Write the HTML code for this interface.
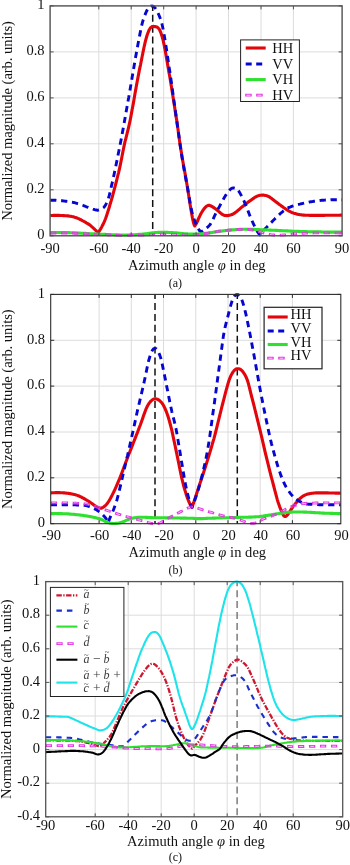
<!DOCTYPE html>
<html><head><meta charset="utf-8"><title>Normalized magnitude vs azimuth angle</title>
<style>
html,body{margin:0;padding:0;background:#fff}
svg{display:block}
.tk{font-family:'Liberation Serif', serif;font-size:14.5px;fill:#111}
.lb{font-family:'Liberation Serif', serif;font-size:14.5px;fill:#111}
.cap{font-family:'Liberation Serif', serif;font-size:12px;fill:#111}
.lg{font-family:'Liberation Serif', serif;font-size:14.5px;fill:#111}
.mt{font-family:'Liberation Serif', serif;font-size:12px;font-style:italic;fill:#3a3a3a}
.tl{font-family:'Liberation Serif', serif;font-size:8.5px;fill:#3a3a3a}
.op{font-style:normal;font-size:13.5px}
path,line{stroke-linejoin:round}
</style></head><body>
<svg width="350" height="865" viewBox="0 0 350 865">
<rect width="350" height="865" fill="#fff"/>
<clipPath id="ca"><rect x="50.1" y="4.300000000000001" width="292.0" height="233.3"/></clipPath>
<path d="M98.8,5.9V235.8M131.2,5.9V235.8M163.7,5.9V235.8M196.1,5.9V235.8M228.5,5.9V235.8M261.0,5.9V235.8M293.4,5.9V235.8M50.1,189.8H342.1M50.1,143.8H342.1M50.1,97.9H342.1M50.1,51.9H342.1" stroke="#dcdcdc" stroke-width="1" fill="none"/>
<g clip-path="url(#ca)" fill="none">
<line x1="152.7" y1="5.9" x2="152.7" y2="235.8" stroke="#111" stroke-width="1.5" stroke-dasharray="7 3.9" stroke-dashoffset="2.0"/>
<path d="M50.1,215.6 50.9,215.5 51.7,215.5 52.5,215.5 53.4,215.4 54.2,215.4 55.0,215.4 55.8,215.4 56.6,215.4 57.4,215.4 58.3,215.4 59.1,215.4 59.9,215.5 60.7,215.5 61.5,215.5 62.3,215.5 63.2,215.6 64.0,215.6 64.8,215.7 65.6,215.7 66.4,215.8 67.2,215.9 68.1,215.9 68.9,216.0 69.7,216.2 70.5,216.3 71.3,216.4 72.1,216.6 73.0,216.8 73.8,216.9 74.6,217.2 75.4,217.4 76.2,217.7 77.0,218.0 77.9,218.4 78.7,218.7 79.5,219.1 80.3,219.5 81.1,219.9 81.9,220.3 82.8,220.8 83.6,221.2 84.4,221.7 85.2,222.1 86.0,222.6 86.8,223.1 87.7,223.6 88.5,224.1 89.3,224.6 90.1,225.2 90.9,225.9 91.7,226.6 92.6,227.4 93.4,228.1 94.2,228.8 95.0,229.6 95.8,230.3 96.6,231.1 97.5,231.8 98.3,232.6 99.1,231.4 99.9,230.2 100.7,228.8 101.5,227.4 102.3,225.8 103.1,224.2 104.0,222.4 104.8,220.5 105.6,218.5 106.4,216.2 107.2,213.8 108.0,211.3 108.8,208.7 109.6,206.0 110.4,203.2 111.3,200.4 112.1,197.5 112.9,194.6 113.7,191.6 114.5,188.6 115.3,185.6 116.1,182.5 116.9,179.3 117.7,176.0 118.6,172.6 119.4,169.1 120.2,165.4 121.0,161.5 121.8,157.5 122.6,153.3 123.4,149.3 124.2,145.4 125.0,141.7 125.9,138.3 126.7,135.0 127.5,131.8 128.3,128.6 129.1,125.2 129.9,121.5 130.7,117.5 131.5,113.1 132.3,108.7 133.2,104.1 134.0,99.5 134.8,94.8 135.6,90.3 136.4,85.8 137.2,81.5 138.0,77.2 138.8,73.1 139.6,68.9 140.5,64.8 141.3,60.7 142.1,56.7 142.9,52.7 143.7,48.8 144.5,45.1 145.3,41.7 146.1,38.6 146.9,35.8 147.8,33.3 148.6,31.2 149.4,29.5 150.2,28.2 151.0,27.4 151.8,26.8 152.6,26.5 153.4,26.4 154.2,26.5 155.1,26.6 155.9,26.7 156.7,27.0 157.5,27.4 158.3,28.1 159.1,29.1 159.9,30.5 160.7,32.3 161.5,34.7 162.4,37.5 163.2,40.7 164.0,44.3 164.8,48.4 165.6,52.8 166.4,57.4 167.2,62.0 168.0,66.7 168.8,71.4 169.7,76.2 170.5,81.1 171.3,86.1 172.1,91.1 172.9,96.1 173.7,101.2 174.5,106.3 175.3,111.5 176.1,116.8 177.0,122.1 177.8,127.9 178.6,134.0 179.4,139.9 180.2,145.3 181.0,150.3 181.8,155.2 182.6,159.9 183.4,164.5 184.3,169.1 185.1,173.7 185.9,178.3 186.7,183.0 187.5,187.8 188.3,192.8 189.1,197.9 189.9,203.2 190.7,208.3 191.6,213.2 192.4,217.6 193.2,221.5 194.0,224.4 194.8,225.9 195.6,224.7 196.4,223.4 197.2,221.8 198.0,220.0 198.8,218.0 199.7,216.2 200.5,214.5 201.3,213.0 202.1,211.7 202.9,210.4 203.7,209.3 204.5,208.3 205.3,207.4 206.1,206.6 206.9,206.0 207.8,205.5 208.6,205.3 209.4,205.3 210.2,205.6 211.0,206.0 211.8,206.4 212.6,206.9 213.4,207.4 214.2,207.9 215.0,208.5 215.8,209.1 216.7,209.8 217.5,210.4 218.3,211.1 219.1,211.8 219.9,212.5 220.7,213.2 221.5,213.8 222.3,214.4 223.1,214.8 223.9,215.2 224.7,215.4 225.6,215.5 226.4,215.6 227.2,215.6 228.0,215.5 228.8,215.4 229.6,215.3 230.4,215.1 231.2,214.8 232.0,214.5 232.8,214.2 233.6,213.7 234.5,213.2 235.3,212.6 236.1,212.0 236.9,211.3 237.7,210.7 238.5,210.0 239.3,209.3 240.1,208.6 240.9,207.9 241.7,207.2 242.6,206.5 243.4,205.9 244.2,205.2 245.0,204.6 245.8,204.0 246.6,203.4 247.4,202.7 248.2,202.1 249.0,201.5 249.8,200.9 250.6,200.4 251.5,199.8 252.3,199.2 253.1,198.6 253.9,198.1 254.7,197.5 255.5,197.0 256.3,196.6 257.1,196.2 257.9,195.9 258.7,195.6 259.5,195.4 260.4,195.3 261.2,195.2 262.0,195.1 262.8,195.1 263.6,195.1 264.4,195.2 265.2,195.4 266.0,195.6 266.8,195.8 267.6,196.1 268.5,196.5 269.3,196.9 270.1,197.4 270.9,198.0 271.7,198.6 272.5,199.2 273.3,199.8 274.1,200.4 274.9,201.1 275.7,201.7 276.5,202.3 277.4,203.0 278.2,203.6 279.0,204.2 279.8,204.8 280.6,205.3 281.4,205.9 282.2,206.5 283.0,207.1 283.8,207.7 284.6,208.2 285.4,208.8 286.3,209.4 287.1,209.9 287.9,210.4 288.7,210.9 289.5,211.3 290.3,211.7 291.1,212.1 291.9,212.5 292.7,212.8 293.5,213.1 294.3,213.4 295.2,213.6 296.0,213.8 296.8,214.1 297.6,214.2 298.4,214.4 299.2,214.5 300.0,214.7 300.8,214.8 301.6,214.9 302.4,215.0 303.3,215.1 304.1,215.1 304.9,215.2 305.7,215.3 306.5,215.3 307.3,215.3 308.1,215.3 308.9,215.3 309.7,215.4 310.5,215.4 311.3,215.4 312.2,215.4 313.0,215.4 313.8,215.4 314.6,215.4 315.4,215.4 316.2,215.4 317.0,215.4 317.8,215.4 318.6,215.4 319.4,215.4 320.2,215.4 321.1,215.4 321.9,215.4 322.7,215.4 323.5,215.4 324.3,215.4 325.1,215.3 325.9,215.3 326.7,215.3 327.5,215.3 328.3,215.3 329.2,215.3 330.0,215.3 330.8,215.3 331.6,215.3 332.4,215.3 333.2,215.3 334.0,215.2 334.8,215.2 335.6,215.2 336.4,215.2 337.2,215.2 338.1,215.2 338.9,215.2 339.7,215.2 340.5,215.1 341.3,215.1 342.1,215.1" stroke="#e2060c" stroke-width="3.1"/>
<path d="M50.1,200.2 50.9,200.2 51.7,200.2 52.5,200.2 53.3,200.2 54.1,200.2 55.0,200.3 55.8,200.3 56.6,200.4 57.4,200.4 58.2,200.5 59.0,200.5 59.8,200.6 60.6,200.7 61.4,200.7 62.2,200.8 63.1,200.9 63.9,201.0 64.7,201.1 65.5,201.2 66.3,201.3 67.1,201.4 67.9,201.5 68.7,201.7 69.5,201.8 70.3,201.9 71.2,202.1 72.0,202.2 72.8,202.4 73.6,202.5 74.4,202.7 75.2,202.9 76.0,203.1 76.8,203.3 77.6,203.6 78.4,203.8 79.3,204.1 80.1,204.3 80.9,204.6 81.7,204.9 82.5,205.2 83.3,205.5 84.1,205.8 84.9,206.2 85.7,206.5 86.5,206.8 87.4,207.1 88.2,207.4 89.0,207.7 89.8,208.0 90.6,208.3 91.4,208.6 92.2,208.8 93.0,209.1 93.8,209.3 94.6,209.6 95.5,209.8 96.3,210.0 97.1,210.2 97.9,210.2 98.7,210.0 99.5,209.8 100.3,209.5 101.1,209.1 101.9,208.7 102.7,208.2 103.6,207.6 104.4,206.7 105.2,205.5 106.0,204.2 106.8,202.6 107.6,200.8 108.4,198.5 109.2,195.7 110.0,192.5 110.8,189.0 111.6,185.4 112.5,181.7 113.3,178.0 114.1,174.3 114.9,170.5 115.7,166.7 116.5,162.8 117.3,158.8 118.1,154.8 118.9,150.7 119.7,146.6 120.6,142.3 121.4,138.1 122.2,133.8 123.0,129.4 123.8,125.0 124.6,120.6 125.4,116.0 126.2,111.5 127.0,106.9 127.8,102.2 128.7,97.6 129.5,92.9 130.3,88.2 131.1,83.5 131.9,78.8 132.7,74.1 133.5,69.4 134.3,64.7 135.1,60.0 135.9,55.4 136.8,50.8 137.6,46.3 138.4,42.0 139.2,37.7 140.0,33.6 140.8,29.6 141.6,25.8 142.4,22.6 143.2,19.8 144.0,17.3 144.9,15.1 145.7,13.1 146.5,11.3 147.3,9.8 148.1,8.5 148.9,7.5 149.7,6.7 150.5,6.2 151.3,5.9 152.1,5.9 153.0,6.2 153.8,6.7 154.6,7.5 155.4,8.4 156.2,9.6 157.0,11.0 157.8,12.6 158.6,14.3 159.4,16.2 160.2,18.3 161.1,20.8 161.9,23.7 162.7,27.2 163.5,31.3 164.3,35.7 165.1,40.4 165.9,45.4 166.7,50.7 167.5,56.1 168.3,61.6 169.1,67.1 170.0,72.6 170.8,78.2 171.6,83.9 172.4,89.6 173.2,95.4 174.0,101.2 174.8,107.0 175.6,112.8 176.4,118.5 177.2,124.3 178.1,130.1 178.9,135.9 179.7,141.7 180.5,147.4 181.3,152.8 182.1,157.8 182.9,162.7 183.7,167.3 184.5,171.8 185.3,176.2 186.2,180.6 187.0,185.0 187.8,189.5 188.6,194.1 189.4,198.7 190.2,203.2 191.0,207.4 191.8,211.4 192.6,214.7 193.4,217.5 194.3,219.8 195.1,221.9 195.9,223.8 196.7,225.6 197.5,227.3 198.3,228.8 199.1,230.0 199.9,231.0 200.7,231.6 201.5,231.6 202.4,231.2 203.2,230.7 204.0,230.0 204.8,229.4 205.6,228.7 206.4,228.1 207.2,227.5 208.0,226.8 208.8,226.0 209.6,225.1 210.5,224.0 211.3,222.8 212.1,221.3 212.9,219.6 213.7,217.8 214.5,216.0 215.3,214.3 216.1,212.7 216.9,211.1 217.7,209.6 218.6,208.1 219.4,206.6 220.2,205.1 221.0,203.6 221.8,202.1 222.6,200.7 223.4,199.2 224.2,197.8 225.0,196.4 225.8,195.1 226.6,193.9 227.5,192.8 228.3,191.7 229.1,190.7 229.9,189.8 230.7,189.0 231.5,188.5 232.3,188.1 233.1,188.0 233.9,188.0 234.7,188.1 235.6,188.3 236.4,188.7 237.2,189.3 238.0,190.1 238.8,191.2 239.6,192.5 240.4,193.9 241.2,195.4 242.0,197.0 242.8,198.6 243.7,200.4 244.5,202.2 245.3,204.0 246.1,206.0 246.9,208.0 247.7,210.1 248.5,212.1 249.3,214.2 250.1,216.2 250.9,218.2 251.8,220.1 252.6,222.0 253.4,223.8 254.2,225.5 255.0,227.1 255.8,228.7 256.6,230.2 257.4,231.6 258.2,232.8 259.0,233.9 259.9,234.9 260.7,233.9 261.5,232.9 262.3,231.9 263.1,231.0 263.9,230.1 264.7,229.2 265.6,228.3 266.4,227.5 267.2,226.6 268.0,225.8 268.8,224.9 269.6,224.1 270.4,223.2 271.3,222.4 272.1,221.6 272.9,220.8 273.7,220.0 274.5,219.2 275.3,218.4 276.1,217.6 277.0,216.8 277.8,216.0 278.6,215.3 279.4,214.5 280.2,213.7 281.0,213.0 281.8,212.3 282.7,211.6 283.5,210.9 284.3,210.3 285.1,209.7 285.9,209.1 286.7,208.6 287.5,208.2 288.4,207.7 289.2,207.4 290.0,207.1 290.8,206.7 291.6,206.5 292.4,206.2 293.2,205.9 294.1,205.6 294.9,205.4 295.7,205.1 296.5,204.9 297.3,204.7 298.1,204.5 298.9,204.3 299.8,204.1 300.6,203.9 301.4,203.7 302.2,203.6 303.0,203.4 303.8,203.2 304.6,203.0 305.5,202.9 306.3,202.7 307.1,202.5 307.9,202.3 308.7,202.2 309.5,202.0 310.3,201.9 311.2,201.7 312.0,201.6 312.8,201.5 313.6,201.3 314.4,201.2 315.2,201.1 316.0,201.0 316.9,200.9 317.7,200.8 318.5,200.7 319.3,200.6 320.1,200.5 320.9,200.4 321.7,200.3 322.6,200.3 323.4,200.2 324.2,200.1 325.0,200.1 325.8,200.0 326.6,200.0 327.4,199.9 328.3,199.9 329.1,199.9 329.9,199.9 330.7,199.8 331.5,199.8 332.3,199.8 333.1,199.8 334.0,199.8 334.8,199.8 335.6,199.8 336.4,199.8 337.2,199.8 338.0,199.8 338.8,199.8 339.7,199.9 340.5,199.9 341.3,199.9 342.1,199.9" stroke="#0606d2" stroke-width="2.9" stroke-dasharray="6.3 4.7"/>
<path d="M50.1,232.6 50.9,232.6 51.7,232.6 52.5,232.6 53.3,232.5 54.2,232.5 55.0,232.5 55.8,232.5 56.6,232.5 57.4,232.5 58.2,232.5 59.0,232.5 59.8,232.5 60.6,232.5 61.5,232.5 62.3,232.5 63.1,232.5 63.9,232.5 64.7,232.5 65.5,232.5 66.3,232.6 67.1,232.6 67.9,232.6 68.8,232.6 69.6,232.6 70.4,232.7 71.2,232.7 72.0,232.7 72.8,232.7 73.6,232.8 74.4,232.8 75.2,232.9 76.1,232.9 76.9,232.9 77.7,233.0 78.5,233.0 79.3,233.1 80.1,233.1 80.9,233.2 81.7,233.2 82.5,233.2 83.4,233.3 84.2,233.3 85.0,233.4 85.8,233.4 86.6,233.5 87.4,233.5 88.2,233.6 89.0,233.6 89.8,233.7 90.7,233.7 91.5,233.7 92.3,233.8 93.1,233.8 93.9,233.9 94.7,233.9 95.5,234.0 96.3,234.0 97.1,234.0 98.0,234.1 98.8,234.1 99.6,234.2 100.4,234.2 101.2,234.2 102.0,234.3 102.8,234.3 103.6,234.4 104.4,234.4 105.3,234.4 106.1,234.5 106.9,234.5 107.7,234.6 108.5,234.6 109.3,234.6 110.1,234.7 110.9,234.7 111.7,234.7 112.6,234.8 113.4,234.8 114.2,234.8 115.0,234.9 115.8,234.9 116.6,234.9 117.4,235.0 118.2,235.0 119.0,235.0 119.9,235.0 120.7,235.0 121.5,235.0 122.3,235.0 123.1,235.0 123.9,235.0 124.7,235.0 125.5,235.0 126.3,235.0 127.2,235.0 128.0,235.0 128.8,235.0 129.6,234.9 130.4,234.9 131.2,234.9 132.0,234.8 132.8,234.8 133.6,234.8 134.5,234.7 135.3,234.7 136.1,234.6 136.9,234.6 137.7,234.5 138.5,234.4 139.3,234.4 140.1,234.3 140.9,234.2 141.8,234.2 142.6,234.1 143.4,234.0 144.2,234.0 145.0,233.9 145.8,233.8 146.6,233.7 147.4,233.6 148.2,233.5 149.1,233.4 149.9,233.3 150.7,233.1 151.5,233.0 152.3,232.9 153.1,232.8 153.9,232.7 154.7,232.6 155.5,232.6 156.4,232.5 157.2,232.5 158.0,232.4 158.8,232.4 159.6,232.4 160.4,232.4 161.2,232.3 162.0,232.3 162.8,232.3 163.7,232.3 164.5,232.3 165.3,232.4 166.1,232.4 166.9,232.4 167.7,232.4 168.5,232.5 169.3,232.5 170.1,232.5 171.0,232.5 171.8,232.6 172.6,232.6 173.4,232.7 174.2,232.7 175.0,232.8 175.8,232.9 176.6,232.9 177.4,233.0 178.3,233.1 179.1,233.2 179.9,233.3 180.7,233.4 181.5,233.5 182.3,233.5 183.1,233.6 183.9,233.7 184.7,233.8 185.6,233.8 186.4,233.9 187.2,233.9 188.0,234.0 188.8,234.0 189.6,234.0 190.4,234.0 191.2,234.0 192.0,234.1 192.9,234.1 193.7,234.1 194.5,234.1 195.3,234.0 196.1,234.0 196.9,234.0 197.7,234.0 198.5,233.9 199.3,233.9 200.2,233.9 201.0,233.8 201.8,233.7 202.6,233.7 203.4,233.6 204.2,233.5 205.0,233.4 205.8,233.3 206.6,233.2 207.5,233.1 208.3,233.0 209.1,232.9 209.9,232.7 210.7,232.6 211.5,232.5 212.3,232.4 213.1,232.2 213.9,232.1 214.8,232.0 215.6,231.9 216.4,231.7 217.2,231.6 218.0,231.5 218.8,231.4 219.6,231.3 220.4,231.2 221.2,231.1 222.1,231.0 222.9,230.9 223.7,230.8 224.5,230.7 225.3,230.6 226.1,230.5 226.9,230.5 227.7,230.4 228.5,230.3 229.4,230.2 230.2,230.1 231.0,230.0 231.8,230.0 232.6,229.9 233.4,229.8 234.2,229.8 235.0,229.7 235.8,229.6 236.7,229.6 237.5,229.5 238.3,229.5 239.1,229.5 239.9,229.4 240.7,229.4 241.5,229.4 242.3,229.3 243.1,229.3 244.0,229.3 244.8,229.3 245.6,229.3 246.4,229.3 247.2,229.3 248.0,229.3 248.8,229.3 249.6,229.3 250.4,229.3 251.3,229.3 252.1,229.3 252.9,229.4 253.7,229.4 254.5,229.4 255.3,229.5 256.1,229.5 256.9,229.5 257.7,229.6 258.6,229.6 259.4,229.6 260.2,229.7 261.0,229.7 261.8,229.7 262.6,229.8 263.4,229.8 264.2,229.8 265.0,229.9 265.9,229.9 266.7,229.9 267.5,230.0 268.3,230.0 269.1,230.1 269.9,230.1 270.7,230.1 271.5,230.2 272.3,230.2 273.2,230.2 274.0,230.3 274.8,230.3 275.6,230.4 276.4,230.4 277.2,230.4 278.0,230.5 278.8,230.5 279.6,230.6 280.5,230.6 281.3,230.6 282.1,230.7 282.9,230.7 283.7,230.8 284.5,230.8 285.3,230.8 286.1,230.9 286.9,230.9 287.8,230.9 288.6,231.0 289.4,231.0 290.2,231.1 291.0,231.1 291.8,231.1 292.6,231.2 293.4,231.2 294.2,231.2 295.1,231.3 295.9,231.3 296.7,231.3 297.5,231.4 298.3,231.4 299.1,231.4 299.9,231.5 300.7,231.5 301.5,231.5 302.4,231.5 303.2,231.6 304.0,231.6 304.8,231.6 305.6,231.6 306.4,231.6 307.2,231.7 308.0,231.7 308.8,231.7 309.7,231.7 310.5,231.7 311.3,231.8 312.1,231.8 312.9,231.8 313.7,231.8 314.5,231.8 315.3,231.8 316.1,231.9 317.0,231.9 317.8,231.9 318.6,231.9 319.4,231.9 320.2,231.9 321.0,231.9 321.8,232.0 322.6,232.0 323.4,232.0 324.3,232.0 325.1,232.0 325.9,232.0 326.7,232.0 327.5,232.0 328.3,232.0 329.1,232.1 329.9,232.1 330.7,232.1 331.6,232.1 332.4,232.1 333.2,232.1 334.0,232.1 334.8,232.1 335.6,232.1 336.4,232.1 337.2,232.1 338.0,232.1 338.9,232.1 339.7,232.1 340.5,232.1 341.3,232.1 342.1,232.1" stroke="#30e030" stroke-width="3.1"/>
<mask id="hm1" maskUnits="userSpaceOnUse" x="0" y="0" width="350" height="865"><rect width="350" height="865" fill="#fff"/><path d="M50.1,233.0 50.9,233.0 51.7,233.0 52.5,233.0 53.3,233.0 54.2,233.0 55.0,233.0 55.8,233.0 56.6,233.0 57.4,233.0 58.2,233.0 59.0,233.0 59.8,233.0 60.6,233.0 61.5,233.0 62.3,233.0 63.1,233.0 63.9,233.0 64.7,233.0 65.5,233.0 66.3,233.1 67.1,233.1 67.9,233.1 68.8,233.1 69.6,233.1 70.4,233.1 71.2,233.2 72.0,233.2 72.8,233.2 73.6,233.2 74.4,233.3 75.2,233.3 76.1,233.3 76.9,233.4 77.7,233.4 78.5,233.4 79.3,233.5 80.1,233.5 80.9,233.5 81.7,233.6 82.5,233.6 83.4,233.6 84.2,233.7 85.0,233.7 85.8,233.8 86.6,233.8 87.4,233.8 88.2,233.9 89.0,233.9 89.8,233.9 90.7,234.0 91.5,234.0 92.3,234.0 93.1,234.1 93.9,234.1 94.7,234.2 95.5,234.2 96.3,234.2 97.1,234.3 98.0,234.3 98.8,234.3 99.6,234.4 100.4,234.4 101.2,234.5 102.0,234.5 102.8,234.5 103.6,234.6 104.4,234.6 105.3,234.7 106.1,234.7 106.9,234.7 107.7,234.8 108.5,234.8 109.3,234.9 110.1,234.9 110.9,234.9 111.7,235.0 112.6,235.0 113.4,235.0 114.2,235.1 115.0,235.1 115.8,235.1 116.6,235.2 117.4,235.2 118.2,235.2 119.0,235.2 119.9,235.3 120.7,235.3 121.5,235.3 122.3,235.3 123.1,235.3 123.9,235.3 124.7,235.3 125.5,235.3 126.3,235.3 127.2,235.3 128.0,235.3 128.8,235.3 129.6,235.3 130.4,235.3 131.2,235.2 132.0,235.2 132.8,235.2 133.6,235.2 134.5,235.2 135.3,235.2 136.1,235.2 136.9,235.2 137.7,235.1 138.5,235.1 139.3,235.1 140.1,235.1 140.9,235.1 141.8,235.1 142.6,235.0 143.4,235.0 144.2,235.0 145.0,234.9 145.8,234.9 146.6,234.9 147.4,234.8 148.2,234.8 149.1,234.7 149.9,234.7 150.7,234.7 151.5,234.6 152.3,234.6 153.1,234.5 153.9,234.5 154.7,234.5 155.5,234.4 156.4,234.4 157.2,234.4 158.0,234.3 158.8,234.3 159.6,234.3 160.4,234.2 161.2,234.2 162.0,234.2 162.8,234.2 163.7,234.2 164.5,234.2 165.3,234.2 166.1,234.2 166.9,234.2 167.7,234.2 168.5,234.2 169.3,234.3 170.1,234.3 171.0,234.3 171.8,234.3 172.6,234.4 173.4,234.4 174.2,234.4 175.0,234.4 175.8,234.5 176.6,234.5 177.4,234.5 178.3,234.6 179.1,234.6 179.9,234.6 180.7,234.6 181.5,234.6 182.3,234.6 183.1,234.7 183.9,234.7 184.7,234.7 185.6,234.7 186.4,234.7 187.2,234.7 188.0,234.6 188.8,234.6 189.6,234.6 190.4,234.6 191.2,234.6 192.0,234.6 192.9,234.5 193.7,234.5 194.5,234.5 195.3,234.5 196.1,234.4 196.9,234.4 197.7,234.3 198.5,234.3 199.3,234.2 200.2,234.1 201.0,234.1 201.8,234.0 202.6,233.9 203.4,233.8 204.2,233.7 205.0,233.6 205.8,233.5 206.6,233.4 207.5,233.3 208.3,233.2 209.1,233.0 209.9,232.9 210.7,232.8 211.5,232.6 212.3,232.5 213.1,232.3 213.9,232.2 214.8,232.0 215.6,231.8 216.4,231.7 217.2,231.5 218.0,231.4 218.8,231.2 219.6,231.1 220.4,231.0 221.2,230.9 222.1,230.8 222.9,230.7 223.7,230.6 224.5,230.5 225.3,230.4 226.1,230.3 226.9,230.3 227.7,230.2 228.5,230.1 229.4,230.1 230.2,230.0 231.0,229.9 231.8,229.9 232.6,229.8 233.4,229.8 234.2,229.7 235.0,229.7 235.8,229.6 236.7,229.6 237.5,229.5 238.3,229.5 239.1,229.5 239.9,229.4 240.7,229.4 241.5,229.3 242.3,229.3 243.1,229.3 244.0,229.3 244.8,229.3 245.6,229.3 246.4,229.3 247.2,229.4 248.0,229.4 248.8,229.5 249.6,229.6 250.4,229.7 251.3,229.8 252.1,230.0 252.9,230.1 253.7,230.3 254.5,230.5 255.3,230.7 256.1,230.8 256.9,231.1 257.7,231.3 258.6,231.5 259.4,231.7 260.2,231.9 261.0,232.1 261.8,232.3 262.6,232.6 263.4,232.8 264.2,233.1 265.0,233.3 265.9,233.6 266.7,233.8 267.5,234.0 268.3,234.2 269.1,234.4 269.9,234.6 270.7,234.7 271.5,234.8 272.3,234.9 273.2,235.0 274.0,235.0 274.8,235.1 275.6,235.1 276.4,235.1 277.2,235.1 278.0,235.1 278.8,235.1 279.6,235.1 280.5,235.1 281.3,235.1 282.1,235.1 282.9,235.0 283.7,235.0 284.5,234.9 285.3,234.9 286.1,234.8 286.9,234.7 287.8,234.7 288.6,234.6 289.4,234.5 290.2,234.4 291.0,234.3 291.8,234.2 292.6,234.1 293.4,234.0 294.2,233.9 295.1,233.9 295.9,233.8 296.7,233.7 297.5,233.7 298.3,233.6 299.1,233.6 299.9,233.5 300.7,233.5 301.5,233.4 302.4,233.4 303.2,233.3 304.0,233.3 304.8,233.2 305.6,233.2 306.4,233.2 307.2,233.1 308.0,233.1 308.8,233.1 309.7,233.0 310.5,233.0 311.3,233.0 312.1,233.0 312.9,233.0 313.7,232.9 314.5,232.9 315.3,232.9 316.1,232.9 317.0,232.9 317.8,232.9 318.6,232.9 319.4,232.9 320.2,232.8 321.0,232.8 321.8,232.8 322.6,232.8 323.4,232.8 324.3,232.8 325.1,232.8 325.9,232.8 326.7,232.8 327.5,232.8 328.3,232.8 329.1,232.8 329.9,232.8 330.7,232.8 331.6,232.8 332.4,232.9 333.2,232.9 334.0,232.9 334.8,232.9 335.6,232.9 336.4,232.9 337.2,232.9 338.0,232.9 338.9,233.0 339.7,233.0 340.5,233.0 341.3,233.0 342.1,233.0" fill="none" stroke="#000" stroke-width="0.80" stroke-dasharray="3.90 7.10" stroke-dashoffset="-1.20"/></mask><path d="M50.1,233.0 50.9,233.0 51.7,233.0 52.5,233.0 53.3,233.0 54.2,233.0 55.0,233.0 55.8,233.0 56.6,233.0 57.4,233.0 58.2,233.0 59.0,233.0 59.8,233.0 60.6,233.0 61.5,233.0 62.3,233.0 63.1,233.0 63.9,233.0 64.7,233.0 65.5,233.0 66.3,233.1 67.1,233.1 67.9,233.1 68.8,233.1 69.6,233.1 70.4,233.1 71.2,233.2 72.0,233.2 72.8,233.2 73.6,233.2 74.4,233.3 75.2,233.3 76.1,233.3 76.9,233.4 77.7,233.4 78.5,233.4 79.3,233.5 80.1,233.5 80.9,233.5 81.7,233.6 82.5,233.6 83.4,233.6 84.2,233.7 85.0,233.7 85.8,233.8 86.6,233.8 87.4,233.8 88.2,233.9 89.0,233.9 89.8,233.9 90.7,234.0 91.5,234.0 92.3,234.0 93.1,234.1 93.9,234.1 94.7,234.2 95.5,234.2 96.3,234.2 97.1,234.3 98.0,234.3 98.8,234.3 99.6,234.4 100.4,234.4 101.2,234.5 102.0,234.5 102.8,234.5 103.6,234.6 104.4,234.6 105.3,234.7 106.1,234.7 106.9,234.7 107.7,234.8 108.5,234.8 109.3,234.9 110.1,234.9 110.9,234.9 111.7,235.0 112.6,235.0 113.4,235.0 114.2,235.1 115.0,235.1 115.8,235.1 116.6,235.2 117.4,235.2 118.2,235.2 119.0,235.2 119.9,235.3 120.7,235.3 121.5,235.3 122.3,235.3 123.1,235.3 123.9,235.3 124.7,235.3 125.5,235.3 126.3,235.3 127.2,235.3 128.0,235.3 128.8,235.3 129.6,235.3 130.4,235.3 131.2,235.2 132.0,235.2 132.8,235.2 133.6,235.2 134.5,235.2 135.3,235.2 136.1,235.2 136.9,235.2 137.7,235.1 138.5,235.1 139.3,235.1 140.1,235.1 140.9,235.1 141.8,235.1 142.6,235.0 143.4,235.0 144.2,235.0 145.0,234.9 145.8,234.9 146.6,234.9 147.4,234.8 148.2,234.8 149.1,234.7 149.9,234.7 150.7,234.7 151.5,234.6 152.3,234.6 153.1,234.5 153.9,234.5 154.7,234.5 155.5,234.4 156.4,234.4 157.2,234.4 158.0,234.3 158.8,234.3 159.6,234.3 160.4,234.2 161.2,234.2 162.0,234.2 162.8,234.2 163.7,234.2 164.5,234.2 165.3,234.2 166.1,234.2 166.9,234.2 167.7,234.2 168.5,234.2 169.3,234.3 170.1,234.3 171.0,234.3 171.8,234.3 172.6,234.4 173.4,234.4 174.2,234.4 175.0,234.4 175.8,234.5 176.6,234.5 177.4,234.5 178.3,234.6 179.1,234.6 179.9,234.6 180.7,234.6 181.5,234.6 182.3,234.6 183.1,234.7 183.9,234.7 184.7,234.7 185.6,234.7 186.4,234.7 187.2,234.7 188.0,234.6 188.8,234.6 189.6,234.6 190.4,234.6 191.2,234.6 192.0,234.6 192.9,234.5 193.7,234.5 194.5,234.5 195.3,234.5 196.1,234.4 196.9,234.4 197.7,234.3 198.5,234.3 199.3,234.2 200.2,234.1 201.0,234.1 201.8,234.0 202.6,233.9 203.4,233.8 204.2,233.7 205.0,233.6 205.8,233.5 206.6,233.4 207.5,233.3 208.3,233.2 209.1,233.0 209.9,232.9 210.7,232.8 211.5,232.6 212.3,232.5 213.1,232.3 213.9,232.2 214.8,232.0 215.6,231.8 216.4,231.7 217.2,231.5 218.0,231.4 218.8,231.2 219.6,231.1 220.4,231.0 221.2,230.9 222.1,230.8 222.9,230.7 223.7,230.6 224.5,230.5 225.3,230.4 226.1,230.3 226.9,230.3 227.7,230.2 228.5,230.1 229.4,230.1 230.2,230.0 231.0,229.9 231.8,229.9 232.6,229.8 233.4,229.8 234.2,229.7 235.0,229.7 235.8,229.6 236.7,229.6 237.5,229.5 238.3,229.5 239.1,229.5 239.9,229.4 240.7,229.4 241.5,229.3 242.3,229.3 243.1,229.3 244.0,229.3 244.8,229.3 245.6,229.3 246.4,229.3 247.2,229.4 248.0,229.4 248.8,229.5 249.6,229.6 250.4,229.7 251.3,229.8 252.1,230.0 252.9,230.1 253.7,230.3 254.5,230.5 255.3,230.7 256.1,230.8 256.9,231.1 257.7,231.3 258.6,231.5 259.4,231.7 260.2,231.9 261.0,232.1 261.8,232.3 262.6,232.6 263.4,232.8 264.2,233.1 265.0,233.3 265.9,233.6 266.7,233.8 267.5,234.0 268.3,234.2 269.1,234.4 269.9,234.6 270.7,234.7 271.5,234.8 272.3,234.9 273.2,235.0 274.0,235.0 274.8,235.1 275.6,235.1 276.4,235.1 277.2,235.1 278.0,235.1 278.8,235.1 279.6,235.1 280.5,235.1 281.3,235.1 282.1,235.1 282.9,235.0 283.7,235.0 284.5,234.9 285.3,234.9 286.1,234.8 286.9,234.7 287.8,234.7 288.6,234.6 289.4,234.5 290.2,234.4 291.0,234.3 291.8,234.2 292.6,234.1 293.4,234.0 294.2,233.9 295.1,233.9 295.9,233.8 296.7,233.7 297.5,233.7 298.3,233.6 299.1,233.6 299.9,233.5 300.7,233.5 301.5,233.4 302.4,233.4 303.2,233.3 304.0,233.3 304.8,233.2 305.6,233.2 306.4,233.2 307.2,233.1 308.0,233.1 308.8,233.1 309.7,233.0 310.5,233.0 311.3,233.0 312.1,233.0 312.9,233.0 313.7,232.9 314.5,232.9 315.3,232.9 316.1,232.9 317.0,232.9 317.8,232.9 318.6,232.9 319.4,232.9 320.2,232.8 321.0,232.8 321.8,232.8 322.6,232.8 323.4,232.8 324.3,232.8 325.1,232.8 325.9,232.8 326.7,232.8 327.5,232.8 328.3,232.8 329.1,232.8 329.9,232.8 330.7,232.8 331.6,232.8 332.4,232.9 333.2,232.9 334.0,232.9 334.8,232.9 335.6,232.9 336.4,232.9 337.2,232.9 338.0,232.9 338.9,233.0 339.7,233.0 340.5,233.0 341.3,233.0 342.1,233.0" fill="none" stroke="#e437e4" stroke-width="2.8" stroke-dasharray="6.3 4.7" stroke-dashoffset="0" mask="url(#hm1)"/>
</g>
<rect x="50.1" y="5.9" width="292.0" height="229.9" fill="none" stroke="#505050" stroke-width="1.4"/>
<path d="M98.8,235.8v-3.5M98.8,5.9v3.5M131.2,235.8v-3.5M131.2,5.9v3.5M163.7,235.8v-3.5M163.7,5.9v3.5M196.1,235.8v-3.5M196.1,5.9v3.5M228.5,235.8v-3.5M228.5,5.9v3.5M261.0,235.8v-3.5M261.0,5.9v3.5M293.4,235.8v-3.5M293.4,5.9v3.5M50.1,235.8h3.5M342.1,235.8h-3.5M50.1,189.8h3.5M342.1,189.8h-3.5M50.1,143.8h3.5M342.1,143.8h-3.5M50.1,97.9h3.5M342.1,97.9h-3.5M50.1,51.9h3.5M342.1,51.9h-3.5M50.1,5.9h3.5M342.1,5.9h-3.5" stroke="#505050" stroke-width="1" fill="none"/>
<text x="50.1" y="252.8" text-anchor="middle" class="tk">-90</text>
<text x="98.8" y="252.8" text-anchor="middle" class="tk">-60</text>
<text x="131.2" y="252.8" text-anchor="middle" class="tk">-40</text>
<text x="163.7" y="252.8" text-anchor="middle" class="tk">-20</text>
<text x="196.1" y="252.8" text-anchor="middle" class="tk">0</text>
<text x="228.5" y="252.8" text-anchor="middle" class="tk">20</text>
<text x="261.0" y="252.8" text-anchor="middle" class="tk">40</text>
<text x="293.4" y="252.8" text-anchor="middle" class="tk">60</text>
<text x="342.1" y="252.8" text-anchor="middle" class="tk">90</text>
<text x="44.5" y="239.0" text-anchor="end" class="tk">0</text>
<text x="44.5" y="193.0" text-anchor="end" class="tk">0.2</text>
<text x="44.5" y="147.0" text-anchor="end" class="tk">0.4</text>
<text x="44.5" y="101.1" text-anchor="end" class="tk">0.6</text>
<text x="44.5" y="55.1" text-anchor="end" class="tk">0.8</text>
<text x="44.5" y="9.1" text-anchor="end" class="tk">1</text>
<text x="128.0" y="269.5" class="lb" textLength="137.6" lengthAdjust="spacing">Azimuth angle <tspan font-style="italic">φ</tspan> in deg</text>
<text transform="translate(12.2,120.9) rotate(-90)" text-anchor="middle" class="lb" textLength="199.6" lengthAdjust="spacing">Normalized magnitude (arb. units)</text>
<text x="175.4" y="286.7" text-anchor="middle" class="cap">(a)</text>
<rect x="240.6" y="39.9" width="58.8" height="61.6" fill="#fff" stroke="#222" stroke-width="1.0"/>
<line x1="245.7" y1="48" x2="265.7" y2="48" stroke="#e2060c" stroke-width="3.1"/>
<line x1="245.7" y1="64" x2="265.7" y2="64" stroke="#0606d2" stroke-width="2.9" stroke-dasharray="6 4.5"/>
<line x1="245.7" y1="79.6" x2="265.7" y2="79.6" stroke="#30e030" stroke-width="3.1"/>
<mask id="hm2" maskUnits="userSpaceOnUse" x="0" y="0" width="350" height="865"><rect width="350" height="865" fill="#fff"/><path d="M245.2,95.2 H262.7" fill="none" stroke="#000" stroke-width="0.80" stroke-dasharray="4.10 6.90" stroke-dashoffset="-1.20"/></mask><path d="M245.2,95.2 H262.7" fill="none" stroke="#e437e4" stroke-width="2.8" stroke-dasharray="6.5 4.5" stroke-dashoffset="0" mask="url(#hm2)"/>
<text x="272.3" y="52.5" class="lg">HH</text>
<text x="272.3" y="68.5" class="lg">VV</text>
<text x="272.3" y="84.1" class="lg">VH</text>
<text x="272.3" y="99.7" class="lg">HV</text>
<clipPath id="cb"><rect x="50.7" y="292.79999999999995" width="290.1" height="232.7"/></clipPath>
<path d="M99.1,294.4V523.7M131.3,294.4V523.7M163.5,294.4V523.7M195.8,294.4V523.7M228.0,294.4V523.7M260.2,294.4V523.7M292.4,294.4V523.7M50.7,477.8H340.8M50.7,432.0H340.8M50.7,386.1H340.8M50.7,340.3H340.8" stroke="#dcdcdc" stroke-width="1" fill="none"/>
<g clip-path="url(#cb)" fill="none">
<line x1="155.0" y1="294.4" x2="155.0" y2="523.7" stroke="#111" stroke-width="1.5" stroke-dasharray="7 3.9" stroke-dashoffset="2.3"/>
<line x1="237.3" y1="294.4" x2="237.3" y2="523.7" stroke="#111" stroke-width="1.5" stroke-dasharray="7 3.9" stroke-dashoffset="2.3"/>
<path d="M50.7,492.9 51.5,492.9 52.3,492.8 53.1,492.7 53.9,492.7 54.7,492.7 55.5,492.6 56.4,492.6 57.2,492.6 58.0,492.6 58.8,492.6 59.6,492.6 60.4,492.7 61.2,492.7 62.0,492.8 62.8,492.8 63.6,492.9 64.4,492.9 65.2,493.0 66.0,493.1 66.9,493.2 67.7,493.3 68.5,493.4 69.3,493.5 70.1,493.6 70.9,493.7 71.7,493.9 72.5,494.1 73.3,494.2 74.1,494.4 74.9,494.6 75.7,494.9 76.5,495.1 77.4,495.4 78.2,495.7 79.0,496.0 79.8,496.4 80.6,496.8 81.4,497.1 82.2,497.6 83.0,498.0 83.8,498.4 84.6,498.9 85.4,499.4 86.2,499.8 87.0,500.3 87.9,500.8 88.7,501.3 89.5,501.9 90.3,502.4 91.1,503.0 91.9,503.5 92.7,504.1 93.5,504.7 94.3,505.3 95.1,505.9 95.9,506.4 96.7,506.9 97.5,507.3 98.4,507.6 99.2,507.9 100.0,508.1 100.8,508.2 101.6,508.1 102.4,507.8 103.2,507.3 104.0,506.7 104.8,506.0 105.6,505.3 106.4,504.5 107.2,503.5 108.0,502.4 108.9,501.1 109.7,499.7 110.5,498.3 111.3,496.7 112.1,495.2 112.9,493.6 113.7,492.0 114.5,490.3 115.3,488.6 116.1,486.8 116.9,485.0 117.7,483.1 118.5,481.2 119.4,479.2 120.2,477.2 121.0,475.1 121.8,473.0 122.6,470.9 123.4,468.7 124.2,466.6 125.0,464.5 125.8,462.3 126.6,460.2 127.4,458.0 128.2,455.9 129.0,453.8 129.9,451.7 130.7,449.7 131.5,447.6 132.3,445.6 133.1,443.5 133.9,441.5 134.7,439.4 135.5,437.4 136.3,435.3 137.1,433.3 137.9,431.2 138.7,429.1 139.5,427.0 140.4,424.7 141.2,422.5 142.0,420.2 142.8,417.9 143.6,415.6 144.4,413.4 145.2,411.2 146.0,409.1 146.8,407.3 147.6,405.7 148.4,404.4 149.2,403.1 150.0,402.1 150.9,401.1 151.7,400.4 152.5,399.8 153.3,399.3 154.1,399.0 154.9,398.9 155.7,398.9 156.5,399.0 157.3,399.2 158.1,399.6 158.9,400.1 159.7,400.7 160.5,401.5 161.4,402.4 162.2,403.4 163.0,404.6 163.8,406.0 164.6,407.6 165.4,409.3 166.2,411.3 167.0,413.5 167.8,415.8 168.6,418.3 169.4,421.0 170.2,424.0 171.0,427.2 171.9,430.7 172.7,434.4 173.5,438.2 174.3,442.0 175.1,445.8 175.9,449.6 176.7,453.5 177.5,457.4 178.3,461.3 179.1,465.3 179.9,469.2 180.7,473.1 181.5,477.0 182.4,480.6 183.2,483.9 184.0,487.0 184.8,489.8 185.6,492.4 186.4,495.0 187.2,497.4 188.0,499.5 188.8,501.5 189.6,503.2 190.4,504.8 191.2,506.2 192.0,507.5 192.8,505.0 193.7,502.6 194.5,500.1 195.3,497.7 196.1,495.2 196.9,492.8 197.7,490.4 198.5,487.9 199.3,485.5 200.1,483.1 200.9,480.6 201.7,478.2 202.5,475.8 203.3,473.4 204.1,470.9 204.9,468.5 205.7,466.0 206.5,463.4 207.3,460.9 208.1,458.3 208.9,455.7 209.7,453.1 210.5,450.4 211.3,447.7 212.1,444.9 212.9,442.0 213.8,439.1 214.6,436.1 215.4,433.0 216.2,429.9 217.0,426.7 217.8,423.4 218.6,420.2 219.4,416.9 220.2,413.6 221.0,410.4 221.8,407.2 222.6,404.0 223.4,400.9 224.2,397.8 225.0,394.7 225.8,391.7 226.6,388.7 227.4,385.8 228.2,383.0 229.0,380.5 229.8,378.3 230.6,376.4 231.4,374.7 232.2,373.3 233.1,371.9 233.9,370.9 234.7,370.0 235.5,369.4 236.3,369.0 237.1,368.7 237.9,368.7 238.7,368.7 239.5,368.9 240.3,369.3 241.1,369.9 241.9,370.6 242.7,371.5 243.5,372.6 244.3,373.8 245.1,375.1 245.9,376.7 246.7,378.5 247.5,380.6 248.3,383.2 249.1,386.3 249.9,389.5 250.7,392.8 251.5,396.0 252.3,399.2 253.2,402.5 254.0,405.7 254.8,409.0 255.6,412.2 256.4,415.4 257.2,418.7 258.0,421.9 258.8,425.1 259.6,428.4 260.4,431.6 261.2,435.0 262.0,438.4 262.8,441.9 263.6,445.4 264.4,448.9 265.2,452.3 266.0,455.6 266.8,458.9 267.6,462.2 268.4,465.4 269.2,468.6 270.0,471.8 270.8,475.0 271.6,478.2 272.5,481.4 273.3,484.5 274.1,487.6 274.9,490.6 275.7,493.7 276.5,496.6 277.3,499.6 278.1,502.3 278.9,504.6 279.7,506.8 280.5,508.8 281.3,510.8 282.1,512.7 282.9,514.4 283.7,515.7 284.5,516.5 285.3,516.5 286.1,516.2 286.9,515.5 287.7,514.6 288.5,513.5 289.3,512.2 290.1,511.0 290.9,509.7 291.8,508.5 292.6,507.3 293.4,506.2 294.2,505.2 295.0,504.1 295.8,503.1 296.6,502.2 297.4,501.2 298.2,500.3 299.0,499.5 299.8,498.7 300.6,498.0 301.4,497.3 302.2,496.7 303.0,496.1 303.8,495.7 304.6,495.2 305.4,494.9 306.2,494.6 307.0,494.3 307.8,494.1 308.6,493.9 309.4,493.8 310.2,493.6 311.0,493.4 311.9,493.3 312.7,493.2 313.5,493.1 314.3,493.0 315.1,493.0 315.9,492.9 316.7,492.9 317.5,492.9 318.3,492.9 319.1,492.9 319.9,492.9 320.7,492.9 321.5,492.9 322.3,492.9 323.1,492.9 323.9,492.9 324.7,492.9 325.5,492.9 326.3,492.9 327.1,492.9 327.9,492.9 328.7,493.0 329.5,493.0 330.3,493.0 331.2,493.0 332.0,493.0 332.8,493.0 333.6,493.0 334.4,493.0 335.2,493.1 336.0,493.1 336.8,493.1 337.6,493.1 338.4,493.1 339.2,493.1 340.0,493.2 340.8,493.2" stroke="#e2060c" stroke-width="3.1"/>
<path d="M50.7,504.8 51.5,504.7 52.3,504.7 53.1,504.7 53.9,504.7 54.7,504.7 55.5,504.7 56.4,504.7 57.2,504.7 58.0,504.7 58.8,504.7 59.6,504.7 60.4,504.7 61.2,504.7 62.0,504.7 62.8,504.7 63.6,504.7 64.4,504.7 65.2,504.8 66.1,504.8 66.9,504.8 67.7,504.8 68.5,504.8 69.3,504.8 70.1,504.8 70.9,504.8 71.7,504.8 72.5,504.8 73.3,504.9 74.1,504.9 74.9,504.9 75.8,504.9 76.6,505.0 77.4,505.0 78.2,505.0 79.0,505.0 79.8,505.1 80.6,505.1 81.4,505.1 82.2,505.2 83.0,505.2 83.8,505.3 84.6,505.4 85.4,505.5 86.3,505.7 87.1,505.9 87.9,506.1 88.7,506.4 89.5,506.7 90.3,507.0 91.1,507.3 91.9,507.6 92.7,508.0 93.5,508.3 94.3,508.7 95.1,509.1 96.0,509.5 96.8,510.0 97.6,510.6 98.4,511.2 99.2,511.8 100.0,512.4 100.8,513.1 101.6,513.7 102.4,514.4 103.2,515.2 104.0,516.1 104.8,517.0 105.7,518.1 106.5,519.3 107.3,520.9 108.1,523.0 108.9,520.7 109.7,518.6 110.5,516.6 111.3,514.8 112.1,513.1 112.9,511.2 113.7,509.2 114.5,507.1 115.3,504.9 116.1,502.4 117.0,499.7 117.8,496.6 118.6,493.4 119.4,490.1 120.2,486.8 121.0,483.4 121.8,480.0 122.6,476.5 123.4,473.0 124.2,469.5 125.0,466.1 125.8,462.6 126.6,459.1 127.5,455.6 128.3,452.1 129.1,448.5 129.9,445.0 130.7,441.4 131.5,437.9 132.3,434.3 133.1,430.7 133.9,427.1 134.7,423.4 135.5,419.7 136.3,416.0 137.1,412.3 137.9,408.7 138.8,405.1 139.6,401.6 140.4,398.2 141.2,394.8 142.0,391.4 142.8,388.0 143.6,384.5 144.4,380.8 145.2,377.0 146.0,373.1 146.8,369.2 147.6,365.4 148.4,361.7 149.3,358.5 150.1,355.8 150.9,353.5 151.7,351.6 152.5,350.1 153.3,349.1 154.1,348.6 154.9,348.4 155.7,348.6 156.5,349.1 157.3,349.9 158.1,351.3 158.9,353.0 159.7,355.0 160.6,357.4 161.4,360.4 162.2,364.0 163.0,367.9 163.8,371.8 164.6,375.7 165.4,379.6 166.2,383.6 167.0,387.7 167.8,391.7 168.6,395.8 169.4,399.9 170.2,404.0 171.1,408.0 171.9,411.8 172.7,415.1 173.5,418.2 174.3,421.3 175.1,424.5 175.9,428.3 176.7,432.5 177.5,437.1 178.3,441.9 179.1,446.7 179.9,451.6 180.7,456.4 181.5,461.4 182.4,466.4 183.2,471.4 184.0,476.3 184.8,480.9 185.6,485.0 186.4,488.8 187.2,492.3 188.0,495.6 188.8,498.7 189.6,501.4 190.4,503.7 191.2,505.7 192.0,507.5 192.8,505.4 193.7,503.3 194.5,501.0 195.3,498.6 196.1,496.2 196.9,493.8 197.7,491.3 198.5,488.7 199.3,486.0 200.1,483.1 200.9,480.1 201.7,477.1 202.5,473.9 203.3,470.6 204.1,467.2 204.9,463.6 205.7,459.9 206.5,455.9 207.3,451.7 208.1,447.1 208.9,442.2 209.7,436.9 210.5,431.2 211.3,425.3 212.1,419.3 212.9,413.3 213.8,407.4 214.6,401.4 215.4,395.4 216.2,389.5 217.0,383.5 217.8,377.5 218.6,371.6 219.4,365.6 220.2,359.6 221.0,353.7 221.8,347.7 222.6,341.7 223.4,336.1 224.2,331.4 225.0,327.6 225.8,324.4 226.6,321.4 227.4,318.4 228.2,315.2 229.0,311.9 229.8,308.8 230.6,305.8 231.4,303.1 232.2,300.5 233.1,298.4 233.9,296.9 234.7,295.8 235.5,295.1 236.3,294.7 237.1,294.6 237.9,294.7 238.7,295.0 239.5,295.7 240.3,296.7 241.1,298.1 241.9,300.0 242.7,302.3 243.5,304.9 244.3,307.7 245.1,310.8 245.9,314.2 246.7,317.9 247.5,321.7 248.3,325.6 249.1,329.5 249.9,333.5 250.7,337.7 251.5,341.9 252.3,346.3 253.2,350.8 254.0,355.2 254.8,359.7 255.6,364.3 256.4,368.8 257.2,373.3 258.0,377.7 258.8,382.1 259.6,386.4 260.4,390.7 261.2,394.8 262.0,399.0 262.8,403.1 263.6,407.1 264.4,411.0 265.2,415.0 266.0,418.8 266.8,422.6 267.6,426.4 268.4,430.2 269.2,433.8 270.0,437.4 270.8,440.8 271.6,444.1 272.5,447.3 273.3,450.4 274.1,453.4 274.9,456.3 275.7,459.1 276.5,461.9 277.3,464.5 278.1,467.1 278.9,469.5 279.7,471.9 280.5,474.2 281.3,476.4 282.1,478.4 282.9,480.4 283.7,482.2 284.5,483.9 285.3,485.5 286.1,487.0 286.9,488.3 287.7,489.5 288.5,490.7 289.3,491.9 290.1,493.0 290.9,494.1 291.8,495.1 292.6,496.0 293.4,496.9 294.2,497.7 295.0,498.4 295.8,499.1 296.6,499.6 297.4,500.1 298.2,500.6 299.0,501.1 299.8,501.5 300.6,501.9 301.4,502.3 302.2,502.7 303.0,503.1 303.8,503.4 304.6,503.6 305.4,503.8 306.2,504.0 307.0,504.1 307.8,504.1 308.6,504.2 309.4,504.2 310.2,504.3 311.0,504.3 311.9,504.3 312.7,504.4 313.5,504.4 314.3,504.5 315.1,504.5 315.9,504.5 316.7,504.6 317.5,504.6 318.3,504.6 319.1,504.7 319.9,504.7 320.7,504.7 321.5,504.7 322.3,504.7 323.1,504.7 323.9,504.8 324.7,504.8 325.5,504.8 326.3,504.8 327.1,504.8 327.9,504.8 328.7,504.8 329.5,504.8 330.3,504.8 331.2,504.8 332.0,504.8 332.8,504.8 333.6,504.8 334.4,504.8 335.2,504.8 336.0,504.8 336.8,504.8 337.6,504.8 338.4,504.8 339.2,504.8 340.0,504.8 340.8,504.8" stroke="#0606d2" stroke-width="2.9" stroke-dasharray="6.3 4.7"/>
<path d="M50.7,513.6 51.5,513.6 52.3,513.6 53.1,513.6 53.9,513.6 54.7,513.5 55.5,513.5 56.3,513.5 57.1,513.6 58.0,513.6 58.8,513.6 59.6,513.6 60.4,513.6 61.2,513.6 62.0,513.6 62.8,513.7 63.6,513.7 64.4,513.7 65.2,513.8 66.0,513.8 66.8,513.8 67.6,513.9 68.4,513.9 69.2,514.0 70.0,514.1 70.8,514.1 71.7,514.2 72.5,514.3 73.3,514.3 74.1,514.4 74.9,514.5 75.7,514.6 76.5,514.7 77.3,514.8 78.1,514.8 78.9,514.9 79.7,515.0 80.5,515.1 81.3,515.2 82.1,515.3 82.9,515.4 83.7,515.5 84.5,515.7 85.4,515.8 86.2,515.9 87.0,516.0 87.8,516.2 88.6,516.3 89.4,516.5 90.2,516.6 91.0,516.8 91.8,516.9 92.6,517.1 93.4,517.3 94.2,517.5 95.0,517.6 95.8,517.8 96.6,518.0 97.4,518.2 98.2,518.4 99.1,518.6 99.9,518.9 100.7,519.1 101.5,519.5 102.3,519.9 103.1,520.2 103.9,520.7 104.7,521.1 105.5,521.5 106.3,521.9 107.1,522.2 107.9,522.5 108.7,522.8 109.5,523.0 110.3,523.2 111.1,523.3 111.9,523.4 112.7,523.5 113.6,523.5 114.4,523.5 115.2,523.4 116.0,523.4 116.8,523.3 117.6,523.2 118.4,523.1 119.2,522.9 120.0,522.7 120.8,522.5 121.6,522.3 122.4,522.1 123.2,521.8 124.0,521.4 124.8,521.1 125.6,520.7 126.4,520.3 127.3,519.9 128.1,519.5 128.9,519.2 129.7,518.9 130.5,518.6 131.3,518.4 132.1,518.2 132.9,518.1 133.7,517.9 134.5,517.8 135.3,517.7 136.1,517.6 136.9,517.5 137.7,517.4 138.5,517.3 139.3,517.3 140.1,517.3 141.0,517.2 141.8,517.2 142.6,517.3 143.4,517.3 144.2,517.3 145.0,517.3 145.8,517.4 146.6,517.4 147.4,517.4 148.2,517.5 149.0,517.5 149.8,517.5 150.6,517.6 151.4,517.6 152.2,517.6 153.0,517.7 153.8,517.7 154.7,517.7 155.5,517.7 156.3,517.7 157.1,517.7 157.9,517.7 158.7,517.8 159.5,517.8 160.3,517.8 161.1,517.8 161.9,517.8 162.7,517.8 163.5,517.8 164.3,517.8 165.1,517.8 165.9,517.9 166.7,517.9 167.5,517.9 168.4,517.9 169.2,517.9 170.0,517.9 170.8,517.9 171.6,517.9 172.4,517.9 173.2,518.0 174.0,518.0 174.8,518.0 175.6,518.0 176.4,518.0 177.2,518.0 178.0,518.0 178.8,518.0 179.6,518.0 180.4,518.1 181.2,518.1 182.1,518.1 182.9,518.1 183.7,518.1 184.5,518.1 185.3,518.1 186.1,518.1 186.9,518.2 187.7,518.2 188.5,518.2 189.3,518.2 190.1,518.2 190.9,518.3 191.7,518.3 192.5,518.3 193.3,518.4 194.1,518.4 194.9,518.5 195.8,518.5 196.6,518.5 197.4,518.6 198.2,518.6 199.0,518.6 199.8,518.6 200.6,518.6 201.4,518.6 202.2,518.6 203.0,518.6 203.8,518.5 204.6,518.5 205.4,518.5 206.2,518.4 207.0,518.4 207.8,518.3 208.6,518.3 209.4,518.3 210.3,518.2 211.1,518.2 211.9,518.2 212.7,518.1 213.5,518.1 214.3,518.1 215.1,518.1 215.9,518.0 216.7,518.0 217.5,518.0 218.3,518.0 219.1,518.0 219.9,517.9 220.7,517.9 221.5,517.9 222.3,517.9 223.1,517.8 224.0,517.8 224.8,517.8 225.6,517.8 226.4,517.8 227.2,517.7 228.0,517.7 228.8,517.7 229.6,517.7 230.4,517.6 231.2,517.6 232.0,517.6 232.8,517.6 233.6,517.5 234.4,517.5 235.2,517.5 236.0,517.5 236.8,517.5 237.7,517.4 238.5,517.4 239.3,517.4 240.1,517.4 240.9,517.3 241.7,517.3 242.5,517.3 243.3,517.3 244.1,517.3 244.9,517.2 245.7,517.2 246.5,517.2 247.3,517.2 248.1,517.2 248.9,517.1 249.7,517.1 250.5,517.1 251.4,517.1 252.2,517.0 253.0,517.0 253.8,517.0 254.6,516.9 255.4,516.9 256.2,516.8 257.0,516.8 257.8,516.7 258.6,516.7 259.4,516.6 260.2,516.5 261.0,516.4 261.8,516.3 262.6,516.2 263.4,516.0 264.2,515.9 265.1,515.8 265.9,515.6 266.7,515.5 267.5,515.4 268.3,515.2 269.1,515.1 269.9,515.0 270.7,514.9 271.5,514.7 272.3,514.6 273.1,514.5 273.9,514.3 274.7,514.2 275.5,514.1 276.3,514.0 277.1,513.8 277.9,513.7 278.8,513.6 279.6,513.4 280.4,513.3 281.2,513.2 282.0,513.1 282.8,512.9 283.6,512.8 284.4,512.7 285.2,512.6 286.0,512.5 286.8,512.4 287.6,512.3 288.4,512.3 289.2,512.2 290.0,512.1 290.8,512.1 291.6,512.1 292.4,512.0 293.3,512.0 294.1,512.0 294.9,512.0 295.7,512.0 296.5,512.0 297.3,512.0 298.1,512.0 298.9,512.0 299.7,512.0 300.5,512.0 301.3,512.0 302.1,512.0 302.9,512.0 303.7,512.1 304.5,512.1 305.3,512.1 306.1,512.1 307.0,512.2 307.8,512.2 308.6,512.3 309.4,512.3 310.2,512.3 311.0,512.4 311.8,512.4 312.6,512.5 313.4,512.5 314.2,512.6 315.0,512.6 315.8,512.7 316.6,512.7 317.4,512.8 318.2,512.8 319.0,512.9 319.8,512.9 320.7,513.0 321.5,513.0 322.3,513.1 323.1,513.1 323.9,513.1 324.7,513.2 325.5,513.2 326.3,513.2 327.1,513.3 327.9,513.3 328.7,513.3 329.5,513.3 330.3,513.4 331.1,513.4 331.9,513.4 332.7,513.4 333.5,513.5 334.4,513.5 335.2,513.5 336.0,513.5 336.8,513.5 337.6,513.6 338.4,513.6 339.2,513.6 340.0,513.6 340.8,513.6" stroke="#30e030" stroke-width="3.1"/>
<mask id="hm3" maskUnits="userSpaceOnUse" x="0" y="0" width="350" height="865"><rect width="350" height="865" fill="#fff"/><path d="M50.7,502.9 51.5,502.9 52.3,502.9 53.1,502.9 53.9,502.9 54.7,502.9 55.5,502.9 56.3,502.9 57.1,502.9 58.0,502.9 58.8,502.9 59.6,502.9 60.4,502.9 61.2,502.9 62.0,502.9 62.8,502.9 63.6,502.9 64.4,502.9 65.2,502.9 66.0,502.9 66.8,502.9 67.6,502.9 68.4,503.0 69.2,503.0 70.0,503.0 70.8,503.0 71.7,503.0 72.5,503.1 73.3,503.1 74.1,503.1 74.9,503.1 75.7,503.2 76.5,503.2 77.3,503.3 78.1,503.3 78.9,503.3 79.7,503.4 80.5,503.4 81.3,503.5 82.1,503.6 82.9,503.6 83.7,503.7 84.5,503.8 85.4,503.9 86.2,504.0 87.0,504.1 87.8,504.2 88.6,504.4 89.4,504.6 90.2,504.8 91.0,505.0 91.8,505.2 92.6,505.4 93.4,505.6 94.2,505.9 95.0,506.2 95.8,506.4 96.6,506.7 97.4,507.0 98.2,507.3 99.1,507.6 99.9,507.9 100.7,508.2 101.5,508.5 102.3,508.7 103.1,509.0 103.9,509.3 104.7,509.6 105.5,509.9 106.3,510.2 107.1,510.4 107.9,510.7 108.7,511.0 109.5,511.2 110.3,511.5 111.1,511.8 111.9,512.1 112.7,512.3 113.6,512.6 114.4,512.9 115.2,513.1 116.0,513.4 116.8,513.7 117.6,513.9 118.4,514.2 119.2,514.4 120.0,514.7 120.8,514.9 121.6,515.2 122.4,515.4 123.2,515.7 124.0,515.9 124.8,516.1 125.6,516.4 126.4,516.6 127.3,516.8 128.1,517.0 128.9,517.2 129.7,517.4 130.5,517.7 131.3,517.9 132.1,518.1 132.9,518.3 133.7,518.5 134.5,518.7 135.3,518.9 136.1,519.1 136.9,519.3 137.7,519.5 138.5,519.8 139.3,520.0 140.1,520.2 141.0,520.4 141.8,520.7 142.6,520.9 143.4,521.1 144.2,521.4 145.0,521.6 145.8,521.9 146.6,522.1 147.4,522.3 148.2,522.6 149.0,522.8 149.8,523.0 150.6,523.2 151.4,523.4 152.2,523.5 153.0,523.6 153.8,523.6 154.7,523.5 155.5,523.5 156.3,523.5 157.1,523.5 157.9,523.5 158.7,523.4 159.5,523.1 160.3,522.8 161.1,522.4 161.9,521.9 162.7,521.4 163.5,521.0 164.3,520.5 165.1,520.0 165.9,519.5 166.7,519.1 167.5,518.6 168.4,518.1 169.2,517.7 170.0,517.3 170.8,516.8 171.6,516.4 172.4,516.0 173.2,515.6 174.0,515.2 174.8,514.8 175.6,514.3 176.4,513.9 177.2,513.5 178.0,513.1 178.8,512.7 179.6,512.3 180.4,511.8 181.2,511.4 182.1,511.0 182.9,510.6 183.7,510.2 184.5,509.8 185.3,509.4 186.1,509.0 186.9,508.6 187.7,508.2 188.5,507.8 189.3,507.5 190.1,507.2 190.9,507.1 191.7,507.0 192.5,507.1 193.3,507.2 194.1,507.3 194.9,507.5 195.8,507.7 196.6,507.9 197.4,508.2 198.2,508.4 199.0,508.7 199.8,508.9 200.6,509.1 201.4,509.4 202.2,509.6 203.0,509.9 203.8,510.1 204.6,510.4 205.4,510.6 206.2,510.8 207.0,511.1 207.8,511.3 208.6,511.6 209.4,511.8 210.3,512.1 211.1,512.3 211.9,512.5 212.7,512.8 213.5,513.0 214.3,513.3 215.1,513.5 215.9,513.8 216.7,514.0 217.5,514.3 218.3,514.5 219.1,514.7 219.9,515.0 220.7,515.2 221.5,515.4 222.3,515.7 223.1,515.9 224.0,516.0 224.8,516.2 225.6,516.4 226.4,516.6 227.2,516.7 228.0,516.9 228.8,517.1 229.6,517.2 230.4,517.4 231.2,517.5 232.0,517.7 232.8,517.9 233.6,518.0 234.4,518.2 235.2,518.4 236.0,518.6 236.8,518.8 237.7,519.1 238.5,519.3 239.3,519.6 240.1,519.9 240.9,520.2 241.7,520.5 242.5,520.8 243.3,521.1 244.1,521.5 244.9,521.7 245.7,522.0 246.5,522.3 247.3,522.6 248.1,522.8 248.9,523.0 249.7,523.2 250.5,523.3 251.4,523.4 252.2,523.4 253.0,523.4 253.8,523.4 254.6,523.2 255.4,523.0 256.2,522.7 257.0,522.4 257.8,522.0 258.6,521.6 259.4,521.1 260.2,520.7 261.0,520.2 261.8,519.7 262.6,519.3 263.4,518.9 264.2,518.6 265.1,518.3 265.9,518.1 266.7,517.8 267.5,517.5 268.3,517.3 269.1,517.0 269.9,516.7 270.7,516.4 271.5,516.1 272.3,515.8 273.1,515.4 273.9,515.1 274.7,514.7 275.5,514.4 276.3,514.0 277.1,513.6 277.9,513.2 278.8,512.9 279.6,512.5 280.4,512.0 281.2,511.6 282.0,511.2 282.8,510.8 283.6,510.3 284.4,509.9 285.2,509.5 286.0,509.1 286.8,508.7 287.6,508.3 288.4,507.9 289.2,507.6 290.0,507.2 290.8,506.9 291.6,506.6 292.4,506.2 293.3,505.9 294.1,505.7 294.9,505.4 295.7,505.2 296.5,504.9 297.3,504.7 298.1,504.5 298.9,504.4 299.7,504.2 300.5,504.1 301.3,503.9 302.1,503.8 302.9,503.7 303.7,503.6 304.5,503.5 305.3,503.4 306.1,503.3 307.0,503.2 307.8,503.2 308.6,503.2 309.4,503.1 310.2,503.1 311.0,503.1 311.8,503.1 312.6,503.1 313.4,503.1 314.2,503.1 315.0,503.0 315.8,503.0 316.6,503.0 317.4,503.0 318.2,503.0 319.0,503.0 319.8,503.0 320.7,503.0 321.5,503.0 322.3,502.9 323.1,502.9 323.9,502.9 324.7,502.9 325.5,502.9 326.3,502.9 327.1,502.9 327.9,502.9 328.7,502.9 329.5,502.9 330.3,502.9 331.1,502.9 331.9,502.9 332.7,502.9 333.5,502.9 334.4,502.9 335.2,502.9 336.0,502.9 336.8,502.9 337.6,502.9 338.4,502.9 339.2,502.9 340.0,502.9 340.8,502.9" fill="none" stroke="#000" stroke-width="0.80" stroke-dasharray="3.90 7.10" stroke-dashoffset="-1.20"/></mask><path d="M50.7,502.9 51.5,502.9 52.3,502.9 53.1,502.9 53.9,502.9 54.7,502.9 55.5,502.9 56.3,502.9 57.1,502.9 58.0,502.9 58.8,502.9 59.6,502.9 60.4,502.9 61.2,502.9 62.0,502.9 62.8,502.9 63.6,502.9 64.4,502.9 65.2,502.9 66.0,502.9 66.8,502.9 67.6,502.9 68.4,503.0 69.2,503.0 70.0,503.0 70.8,503.0 71.7,503.0 72.5,503.1 73.3,503.1 74.1,503.1 74.9,503.1 75.7,503.2 76.5,503.2 77.3,503.3 78.1,503.3 78.9,503.3 79.7,503.4 80.5,503.4 81.3,503.5 82.1,503.6 82.9,503.6 83.7,503.7 84.5,503.8 85.4,503.9 86.2,504.0 87.0,504.1 87.8,504.2 88.6,504.4 89.4,504.6 90.2,504.8 91.0,505.0 91.8,505.2 92.6,505.4 93.4,505.6 94.2,505.9 95.0,506.2 95.8,506.4 96.6,506.7 97.4,507.0 98.2,507.3 99.1,507.6 99.9,507.9 100.7,508.2 101.5,508.5 102.3,508.7 103.1,509.0 103.9,509.3 104.7,509.6 105.5,509.9 106.3,510.2 107.1,510.4 107.9,510.7 108.7,511.0 109.5,511.2 110.3,511.5 111.1,511.8 111.9,512.1 112.7,512.3 113.6,512.6 114.4,512.9 115.2,513.1 116.0,513.4 116.8,513.7 117.6,513.9 118.4,514.2 119.2,514.4 120.0,514.7 120.8,514.9 121.6,515.2 122.4,515.4 123.2,515.7 124.0,515.9 124.8,516.1 125.6,516.4 126.4,516.6 127.3,516.8 128.1,517.0 128.9,517.2 129.7,517.4 130.5,517.7 131.3,517.9 132.1,518.1 132.9,518.3 133.7,518.5 134.5,518.7 135.3,518.9 136.1,519.1 136.9,519.3 137.7,519.5 138.5,519.8 139.3,520.0 140.1,520.2 141.0,520.4 141.8,520.7 142.6,520.9 143.4,521.1 144.2,521.4 145.0,521.6 145.8,521.9 146.6,522.1 147.4,522.3 148.2,522.6 149.0,522.8 149.8,523.0 150.6,523.2 151.4,523.4 152.2,523.5 153.0,523.6 153.8,523.6 154.7,523.5 155.5,523.5 156.3,523.5 157.1,523.5 157.9,523.5 158.7,523.4 159.5,523.1 160.3,522.8 161.1,522.4 161.9,521.9 162.7,521.4 163.5,521.0 164.3,520.5 165.1,520.0 165.9,519.5 166.7,519.1 167.5,518.6 168.4,518.1 169.2,517.7 170.0,517.3 170.8,516.8 171.6,516.4 172.4,516.0 173.2,515.6 174.0,515.2 174.8,514.8 175.6,514.3 176.4,513.9 177.2,513.5 178.0,513.1 178.8,512.7 179.6,512.3 180.4,511.8 181.2,511.4 182.1,511.0 182.9,510.6 183.7,510.2 184.5,509.8 185.3,509.4 186.1,509.0 186.9,508.6 187.7,508.2 188.5,507.8 189.3,507.5 190.1,507.2 190.9,507.1 191.7,507.0 192.5,507.1 193.3,507.2 194.1,507.3 194.9,507.5 195.8,507.7 196.6,507.9 197.4,508.2 198.2,508.4 199.0,508.7 199.8,508.9 200.6,509.1 201.4,509.4 202.2,509.6 203.0,509.9 203.8,510.1 204.6,510.4 205.4,510.6 206.2,510.8 207.0,511.1 207.8,511.3 208.6,511.6 209.4,511.8 210.3,512.1 211.1,512.3 211.9,512.5 212.7,512.8 213.5,513.0 214.3,513.3 215.1,513.5 215.9,513.8 216.7,514.0 217.5,514.3 218.3,514.5 219.1,514.7 219.9,515.0 220.7,515.2 221.5,515.4 222.3,515.7 223.1,515.9 224.0,516.0 224.8,516.2 225.6,516.4 226.4,516.6 227.2,516.7 228.0,516.9 228.8,517.1 229.6,517.2 230.4,517.4 231.2,517.5 232.0,517.7 232.8,517.9 233.6,518.0 234.4,518.2 235.2,518.4 236.0,518.6 236.8,518.8 237.7,519.1 238.5,519.3 239.3,519.6 240.1,519.9 240.9,520.2 241.7,520.5 242.5,520.8 243.3,521.1 244.1,521.5 244.9,521.7 245.7,522.0 246.5,522.3 247.3,522.6 248.1,522.8 248.9,523.0 249.7,523.2 250.5,523.3 251.4,523.4 252.2,523.4 253.0,523.4 253.8,523.4 254.6,523.2 255.4,523.0 256.2,522.7 257.0,522.4 257.8,522.0 258.6,521.6 259.4,521.1 260.2,520.7 261.0,520.2 261.8,519.7 262.6,519.3 263.4,518.9 264.2,518.6 265.1,518.3 265.9,518.1 266.7,517.8 267.5,517.5 268.3,517.3 269.1,517.0 269.9,516.7 270.7,516.4 271.5,516.1 272.3,515.8 273.1,515.4 273.9,515.1 274.7,514.7 275.5,514.4 276.3,514.0 277.1,513.6 277.9,513.2 278.8,512.9 279.6,512.5 280.4,512.0 281.2,511.6 282.0,511.2 282.8,510.8 283.6,510.3 284.4,509.9 285.2,509.5 286.0,509.1 286.8,508.7 287.6,508.3 288.4,507.9 289.2,507.6 290.0,507.2 290.8,506.9 291.6,506.6 292.4,506.2 293.3,505.9 294.1,505.7 294.9,505.4 295.7,505.2 296.5,504.9 297.3,504.7 298.1,504.5 298.9,504.4 299.7,504.2 300.5,504.1 301.3,503.9 302.1,503.8 302.9,503.7 303.7,503.6 304.5,503.5 305.3,503.4 306.1,503.3 307.0,503.2 307.8,503.2 308.6,503.2 309.4,503.1 310.2,503.1 311.0,503.1 311.8,503.1 312.6,503.1 313.4,503.1 314.2,503.1 315.0,503.0 315.8,503.0 316.6,503.0 317.4,503.0 318.2,503.0 319.0,503.0 319.8,503.0 320.7,503.0 321.5,503.0 322.3,502.9 323.1,502.9 323.9,502.9 324.7,502.9 325.5,502.9 326.3,502.9 327.1,502.9 327.9,502.9 328.7,502.9 329.5,502.9 330.3,502.9 331.1,502.9 331.9,502.9 332.7,502.9 333.5,502.9 334.4,502.9 335.2,502.9 336.0,502.9 336.8,502.9 337.6,502.9 338.4,502.9 339.2,502.9 340.0,502.9 340.8,502.9" fill="none" stroke="#e437e4" stroke-width="2.8" stroke-dasharray="6.3 4.7" stroke-dashoffset="0" mask="url(#hm3)"/>
</g>
<rect x="50.7" y="294.4" width="290.1" height="229.3" fill="none" stroke="#2c2c2c" stroke-width="1.1"/>
<path d="M99.1,523.7v-3.5M99.1,294.4v3.5M131.3,523.7v-3.5M131.3,294.4v3.5M163.5,523.7v-3.5M163.5,294.4v3.5M195.8,523.7v-3.5M195.8,294.4v3.5M228.0,523.7v-3.5M228.0,294.4v3.5M260.2,523.7v-3.5M260.2,294.4v3.5M292.4,523.7v-3.5M292.4,294.4v3.5M50.7,523.7h3.5M340.8,523.7h-3.5M50.7,477.8h3.5M340.8,477.8h-3.5M50.7,432.0h3.5M340.8,432.0h-3.5M50.7,386.1h3.5M340.8,386.1h-3.5M50.7,340.3h3.5M340.8,340.3h-3.5M50.7,294.4h3.5M340.8,294.4h-3.5" stroke="#2c2c2c" stroke-width="1" fill="none"/>
<text x="51.3" y="539.5" text-anchor="middle" class="tk">-90</text>
<text x="99.7" y="539.5" text-anchor="middle" class="tk">-60</text>
<text x="131.9" y="539.5" text-anchor="middle" class="tk">-40</text>
<text x="164.1" y="539.5" text-anchor="middle" class="tk">-20</text>
<text x="196.3" y="539.5" text-anchor="middle" class="tk">0</text>
<text x="228.6" y="539.5" text-anchor="middle" class="tk">20</text>
<text x="260.8" y="539.5" text-anchor="middle" class="tk">40</text>
<text x="293.1" y="539.5" text-anchor="middle" class="tk">60</text>
<text x="341.4" y="539.5" text-anchor="middle" class="tk">90</text>
<text x="45.1" y="526.9" text-anchor="end" class="tk">0</text>
<text x="45.1" y="481.0" text-anchor="end" class="tk">0.2</text>
<text x="45.1" y="435.2" text-anchor="end" class="tk">0.4</text>
<text x="45.1" y="389.3" text-anchor="end" class="tk">0.6</text>
<text x="45.1" y="343.5" text-anchor="end" class="tk">0.8</text>
<text x="45.1" y="297.6" text-anchor="end" class="tk">1</text>
<text x="128.5" y="557.0" class="lb" textLength="137.6" lengthAdjust="spacing">Azimuth angle <tspan font-style="italic">φ</tspan> in deg</text>
<text transform="translate(12.2,409.1) rotate(-90)" text-anchor="middle" class="lb" textLength="199.6" lengthAdjust="spacing">Normalized magnitude (arb. units)</text>
<text x="175.4" y="574.1" text-anchor="middle" class="cap">(b)</text>
<rect x="264.1" y="307.3" width="57.9" height="61.5" fill="#fff" stroke="#222" stroke-width="1.2"/>
<line x1="267.7" y1="317" x2="287.7" y2="317" stroke="#e2060c" stroke-width="3.1"/>
<line x1="267.7" y1="331" x2="287.7" y2="331" stroke="#0606d2" stroke-width="2.9" stroke-dasharray="6 4.5"/>
<line x1="267.7" y1="344.5" x2="287.7" y2="344.5" stroke="#30e030" stroke-width="3.1"/>
<mask id="hm4" maskUnits="userSpaceOnUse" x="0" y="0" width="350" height="865"><rect width="350" height="865" fill="#fff"/><path d="M267.2,358.2 H284.7" fill="none" stroke="#000" stroke-width="0.80" stroke-dasharray="4.10 6.90" stroke-dashoffset="-1.20"/></mask><path d="M267.2,358.2 H284.7" fill="none" stroke="#e437e4" stroke-width="2.8" stroke-dasharray="6.5 4.5" stroke-dashoffset="0" mask="url(#hm4)"/>
<text x="290.6" y="319.2" class="lg">HH</text>
<text x="290.6" y="333.2" class="lg">VV</text>
<text x="290.6" y="346.7" class="lg">VH</text>
<text x="290.6" y="360.4" class="lg">HV</text>
<clipPath id="cc"><rect x="45.7" y="580.0" width="297.0" height="238.6"/></clipPath>
<path d="M95.2,581.6V816.8M128.2,581.6V816.8M161.2,581.6V816.8M194.2,581.6V816.8M227.2,581.6V816.8M260.2,581.6V816.8M293.2,581.6V816.8M45.7,783.2H342.7M45.7,749.6H342.7M45.7,716.0H342.7M45.7,682.4H342.7M45.7,648.8H342.7M45.7,615.2H342.7" stroke="#dcdcdc" stroke-width="1" fill="none"/>
<g clip-path="url(#cc)" fill="none">
<line x1="237.1" y1="581.6" x2="237.1" y2="816.8" stroke="#666" stroke-width="1.3" stroke-dasharray="7 3.9" stroke-dashoffset="2.3"/>
<path d="M45.7,740.4 46.5,740.4 47.4,740.4 48.2,740.4 49.0,740.4 49.8,740.4 50.7,740.4 51.5,740.4 52.3,740.4 53.1,740.4 54.0,740.4 54.8,740.4 55.6,740.4 56.4,740.4 57.3,740.5 58.1,740.5 58.9,740.5 59.8,740.5 60.6,740.5 61.4,740.5 62.2,740.5 63.1,740.5 63.9,740.6 64.7,740.6 65.5,740.6 66.4,740.6 67.2,740.6 68.0,740.7 68.9,740.7 69.7,740.7 70.5,740.7 71.3,740.8 72.2,740.8 73.0,740.8 73.8,740.9 74.6,740.9 75.5,741.0 76.3,741.0 77.1,741.1 77.9,741.1 78.8,741.2 79.6,741.3 80.4,741.4 81.3,741.5 82.1,741.7 82.9,741.8 83.7,742.0 84.6,742.2 85.4,742.4 86.2,742.6 87.0,742.8 87.9,743.0 88.7,743.2 89.5,743.4 90.4,743.6 91.2,743.8 92.0,744.0 92.8,744.3 93.7,744.6 94.5,744.9 95.3,745.2 96.1,745.5 97.0,745.7 97.8,746.0 98.6,746.2 99.4,746.3 100.3,746.2 101.1,745.8 101.9,745.2 102.8,744.4 103.6,743.5 104.4,742.6 105.2,741.7 106.1,740.7 106.9,739.8 107.7,738.9 108.5,737.9 109.4,737.0 110.2,736.0 111.0,734.7 111.8,733.2 112.7,731.5 113.5,729.6 114.3,727.7 115.2,725.7 116.0,723.7 116.8,721.7 117.6,719.6 118.5,717.6 119.3,715.6 120.1,713.7 120.9,711.7 121.8,709.9 122.6,708.1 123.4,706.4 124.3,704.8 125.1,703.3 125.9,701.8 126.7,700.3 127.6,698.8 128.4,697.4 129.2,695.9 130.0,694.5 130.9,693.1 131.7,691.6 132.5,690.2 133.3,688.8 134.2,687.4 135.0,686.0 135.8,684.6 136.7,683.2 137.5,681.8 138.3,680.4 139.1,679.0 140.0,677.7 140.8,676.3 141.6,675.0 142.4,673.7 143.3,672.4 144.1,671.2 144.9,670.1 145.8,669.1 146.6,668.0 147.4,667.0 148.2,666.1 149.1,665.3 149.9,664.7 150.7,664.2 151.5,663.9 152.4,663.7 153.2,663.8 154.0,664.0 154.8,664.5 155.7,665.1 156.5,665.9 157.3,666.7 158.2,667.6 159.0,668.6 159.8,669.7 160.6,670.9 161.5,672.2 162.3,673.6 163.1,675.1 163.9,676.8 164.8,678.6 165.6,680.6 166.4,682.7 167.2,685.0 168.1,687.4 168.9,690.0 169.7,692.7 170.6,695.6 171.4,698.6 172.2,701.8 173.0,705.2 173.9,708.7 174.7,712.1 175.5,715.3 176.3,718.1 177.2,720.8 178.0,723.4 178.8,725.8 179.7,728.1 180.5,730.2 181.3,732.2 182.1,734.1 183.0,736.0 183.8,737.7 184.6,739.3 185.4,740.8 186.3,742.2 187.1,743.5 187.9,744.7 188.7,745.8 189.6,746.7 190.4,747.5 191.2,748.1 192.1,748.6 192.9,747.8 193.7,747.0 194.5,746.1 195.3,745.2 196.2,744.4 197.0,743.5 197.8,742.7 198.6,741.7 199.5,740.7 200.3,739.6 201.1,738.3 201.9,736.9 202.8,735.2 203.6,733.4 204.4,731.4 205.2,729.3 206.0,727.1 206.9,724.8 207.7,722.5 208.5,720.3 209.3,718.0 210.2,715.7 211.0,713.3 211.8,710.9 212.6,708.6 213.5,706.2 214.3,703.9 215.1,701.6 215.9,699.3 216.8,697.1 217.6,695.0 218.4,692.9 219.2,690.8 220.0,688.7 220.9,686.6 221.7,684.5 222.5,682.4 223.3,680.4 224.2,678.3 225.0,676.2 225.8,674.2 226.6,672.2 227.5,670.2 228.3,668.3 229.1,666.8 229.9,665.6 230.7,664.5 231.6,663.6 232.4,662.8 233.2,662.0 234.0,661.3 234.9,660.7 235.7,660.2 236.5,659.9 237.3,659.7 238.2,659.7 239.0,659.9 239.8,660.2 240.6,660.6 241.4,661.1 242.3,661.7 243.1,662.4 243.9,663.2 244.7,663.9 245.6,664.8 246.4,665.8 247.2,666.9 248.0,668.2 248.9,669.7 249.7,671.4 250.5,673.2 251.3,675.0 252.1,676.8 253.0,678.7 253.8,680.6 254.6,682.5 255.4,684.4 256.3,686.4 257.1,688.4 257.9,690.4 258.7,692.4 259.6,694.3 260.4,696.1 261.2,697.8 262.0,699.5 262.8,701.1 263.7,702.7 264.5,704.3 265.3,705.8 266.1,707.3 267.0,708.9 267.8,710.4 268.6,711.8 269.4,713.3 270.3,714.8 271.1,716.3 271.9,717.8 272.7,719.2 273.6,720.7 274.4,722.1 275.2,723.5 276.0,724.9 276.8,726.2 277.7,727.5 278.5,728.8 279.3,730.0 280.1,731.1 281.0,732.2 281.8,733.2 282.6,734.1 283.4,734.9 284.3,735.7 285.1,736.4 285.9,736.9 286.7,737.5 287.5,737.9 288.4,738.2 289.2,738.5 290.0,738.8 290.8,739.0 291.7,739.2 292.5,739.4 293.3,739.6 294.1,739.8 295.0,739.9 295.8,740.1 296.6,740.2 297.4,740.3 298.2,740.4 299.1,740.5 299.9,740.5 300.7,740.6 301.5,740.6 302.4,740.6 303.2,740.6 304.0,740.7 304.8,740.7 305.7,740.7 306.5,740.7 307.3,740.8 308.1,740.8 308.9,740.8 309.8,740.8 310.6,740.8 311.4,740.9 312.2,740.9 313.1,740.9 313.9,740.9 314.7,740.9 315.5,740.9 316.4,740.9 317.2,740.9 318.0,740.9 318.8,740.9 319.7,740.9 320.5,740.9 321.3,740.9 322.1,740.9 322.9,740.9 323.8,740.9 324.6,740.9 325.4,740.9 326.2,740.9 327.1,740.9 327.9,740.9 328.7,740.9 329.5,740.9 330.4,740.9 331.2,740.9 332.0,740.9 332.8,740.9 333.6,740.9 334.5,740.9 335.3,740.9 336.1,740.9 336.9,740.9 337.8,740.9 338.6,740.9 339.4,740.9 340.2,740.9 341.1,740.9 341.9,740.9 342.7,740.9" stroke="#cc1830" stroke-width="2.3000000000000003" stroke-dasharray="5.4 1.5 1.3 1.5"/>
<path d="M45.7,737.2 46.5,737.2 47.4,737.2 48.2,737.2 49.0,737.2 49.8,737.2 50.7,737.2 51.5,737.2 52.3,737.2 53.1,737.2 54.0,737.2 54.8,737.3 55.6,737.3 56.4,737.3 57.2,737.3 58.1,737.4 58.9,737.4 59.7,737.4 60.6,737.4 61.4,737.5 62.2,737.5 63.0,737.5 63.9,737.6 64.7,737.6 65.5,737.6 66.3,737.6 67.2,737.7 68.0,737.7 68.8,737.8 69.6,737.8 70.5,737.9 71.3,738.0 72.1,738.0 72.9,738.1 73.8,738.2 74.6,738.4 75.4,738.5 76.2,738.7 77.1,738.8 77.9,739.0 78.7,739.2 79.5,739.4 80.3,739.6 81.2,739.8 82.0,740.0 82.8,740.2 83.7,740.4 84.5,740.6 85.3,740.8 86.1,741.0 87.0,741.2 87.8,741.4 88.6,741.5 89.4,741.7 90.2,741.9 91.1,742.1 91.9,742.2 92.7,742.4 93.6,742.6 94.4,742.7 95.2,742.9 96.0,743.0 96.8,743.2 97.7,743.3 98.5,743.5 99.3,743.6 100.2,743.7 101.0,743.9 101.8,744.0 102.6,744.1 103.5,744.2 104.3,744.3 105.1,744.4 105.9,744.5 106.8,744.6 107.6,744.7 108.4,744.8 109.2,744.9 110.0,745.0 110.9,745.1 111.7,745.2 112.5,745.3 113.4,745.4 114.2,745.6 115.0,745.7 115.8,745.8 116.7,745.9 117.5,746.0 118.3,746.1 119.1,746.2 120.0,746.2 120.8,746.2 121.6,746.3 122.4,746.2 123.2,746.1 124.1,745.7 124.9,745.0 125.7,744.2 126.5,743.3 127.4,742.3 128.2,741.4 129.0,740.5 129.9,739.7 130.7,738.9 131.5,738.1 132.3,737.3 133.2,736.4 134.0,735.6 134.8,734.8 135.6,734.0 136.4,733.2 137.3,732.4 138.1,731.6 138.9,730.8 139.8,730.0 140.6,729.2 141.4,728.4 142.2,727.7 143.1,726.9 143.9,726.2 144.7,725.5 145.5,724.8 146.4,724.2 147.2,723.5 148.0,722.9 148.8,722.4 149.7,721.9 150.5,721.6 151.3,721.2 152.1,721.0 152.9,720.8 153.8,720.6 154.6,720.4 155.4,720.2 156.2,720.1 157.1,720.0 157.9,719.9 158.7,719.9 159.6,720.0 160.4,720.1 161.2,720.2 162.0,720.3 162.9,720.5 163.7,720.8 164.5,721.1 165.3,721.6 166.2,722.1 167.0,722.7 167.8,723.5 168.6,724.2 169.4,725.0 170.3,725.7 171.1,726.5 171.9,727.2 172.8,727.9 173.6,728.7 174.4,729.4 175.2,730.2 176.1,730.9 176.9,731.7 177.7,732.4 178.5,733.1 179.4,733.9 180.2,734.6 181.0,735.4 181.8,736.1 182.6,736.9 183.5,737.6 184.3,738.3 185.1,739.0 185.9,739.5 186.8,740.0 187.6,740.3 188.4,740.5 189.2,740.7 190.1,740.8 190.9,740.9 191.7,740.9 192.6,740.7 193.4,740.3 194.2,739.7 195.0,738.7 195.9,737.5 196.7,736.3 197.5,735.1 198.3,733.9 199.1,732.6 200.0,731.3 200.8,730.1 201.6,728.8 202.4,727.5 203.3,726.2 204.1,725.0 204.9,723.7 205.8,722.4 206.6,721.1 207.4,719.8 208.2,718.4 209.1,716.9 209.9,715.4 210.7,713.6 211.5,711.6 212.4,709.4 213.2,707.1 214.0,704.8 214.8,702.4 215.6,700.1 216.5,697.8 217.3,695.7 218.1,693.6 218.9,691.6 219.8,689.5 220.6,687.6 221.4,685.7 222.2,684.0 223.1,682.4 223.9,681.0 224.7,679.9 225.6,679.0 226.4,678.4 227.2,677.9 228.0,677.4 228.9,677.0 229.7,676.6 230.5,676.3 231.3,676.0 232.1,675.7 233.0,675.5 233.8,675.3 234.6,675.2 235.4,675.2 236.3,675.2 237.1,675.4 237.9,675.6 238.8,675.9 239.6,676.3 240.4,676.8 241.2,677.4 242.1,678.0 242.9,678.8 243.7,679.7 244.5,680.7 245.4,682.0 246.2,683.4 247.0,685.1 247.8,686.9 248.6,688.8 249.5,690.6 250.3,692.3 251.1,693.9 251.9,695.6 252.8,697.2 253.6,698.8 254.4,700.4 255.2,702.1 256.1,703.6 256.9,705.2 257.7,706.7 258.6,708.2 259.4,709.7 260.2,711.1 261.0,712.5 261.9,713.9 262.7,715.2 263.5,716.5 264.3,717.9 265.1,719.2 266.0,720.5 266.8,721.8 267.6,723.1 268.4,724.4 269.3,725.7 270.1,727.0 270.9,728.3 271.8,729.5 272.6,730.6 273.4,731.7 274.2,732.6 275.1,733.5 275.9,734.3 276.7,735.0 277.5,735.6 278.4,736.2 279.2,736.7 280.0,737.1 280.8,737.4 281.6,737.8 282.5,738.1 283.3,738.3 284.1,738.5 284.9,738.7 285.8,738.8 286.6,738.9 287.4,738.9 288.2,738.8 289.1,738.8 289.9,738.7 290.7,738.7 291.6,738.6 292.4,738.5 293.2,738.5 294.0,738.4 294.9,738.3 295.7,738.2 296.5,738.2 297.3,738.1 298.1,738.0 299.0,737.9 299.8,737.8 300.6,737.7 301.4,737.6 302.3,737.5 303.1,737.4 303.9,737.3 304.8,737.2 305.6,737.1 306.4,737.0 307.2,736.9 308.1,736.9 308.9,736.8 309.7,736.8 310.5,736.8 311.3,736.8 312.2,736.9 313.0,736.9 313.8,736.9 314.6,736.9 315.5,736.9 316.3,736.9 317.1,736.9 317.9,736.9 318.8,736.9 319.6,736.9 320.4,736.9 321.2,736.9 322.1,737.0 322.9,737.0 323.7,737.0 324.6,737.0 325.4,737.0 326.2,737.0 327.0,737.0 327.8,737.0 328.7,737.0 329.5,737.0 330.3,737.0 331.1,737.1 332.0,737.1 332.8,737.1 333.6,737.1 334.4,737.1 335.3,737.1 336.1,737.1 336.9,737.1 337.8,737.1 338.6,737.1 339.4,737.1 340.2,737.1 341.1,737.2 341.9,737.2 342.7,737.2" stroke="#1a30cc" stroke-width="2.1" stroke-dasharray="5.5 5"/>
<path d="M45.7,740.0 46.5,740.0 47.4,740.0 48.2,740.0 49.0,740.0 49.8,740.0 50.7,740.0 51.5,740.0 52.3,740.0 53.1,740.0 54.0,740.0 54.8,740.0 55.6,740.0 56.4,740.1 57.2,740.1 58.1,740.1 58.9,740.1 59.7,740.1 60.6,740.1 61.4,740.2 62.2,740.2 63.0,740.2 63.9,740.2 64.7,740.3 65.5,740.3 66.3,740.3 67.2,740.4 68.0,740.4 68.8,740.4 69.6,740.5 70.5,740.5 71.3,740.6 72.1,740.6 72.9,740.7 73.8,740.7 74.6,740.8 75.4,740.8 76.2,740.9 77.1,740.9 77.9,741.0 78.7,741.0 79.5,741.1 80.3,741.2 81.2,741.2 82.0,741.3 82.8,741.4 83.7,741.4 84.5,741.5 85.3,741.6 86.1,741.7 87.0,741.8 87.8,741.9 88.6,742.0 89.4,742.1 90.2,742.2 91.1,742.3 91.9,742.4 92.7,742.5 93.6,742.6 94.4,742.7 95.2,742.8 96.0,743.0 96.8,743.1 97.7,743.2 98.5,743.4 99.3,743.5 100.2,743.7 101.0,743.8 101.8,744.0 102.6,744.1 103.5,744.3 104.3,744.5 105.1,744.7 105.9,744.9 106.8,745.1 107.6,745.3 108.4,745.5 109.2,745.7 110.0,745.9 110.9,746.1 111.7,746.2 112.5,746.4 113.4,746.6 114.2,746.7 115.0,746.9 115.8,747.0 116.7,747.1 117.5,747.2 118.3,747.3 119.1,747.4 120.0,747.4 120.8,747.4 121.6,747.4 122.4,747.4 123.2,747.4 124.1,747.4 124.9,747.4 125.7,747.4 126.5,747.3 127.4,747.3 128.2,747.3 129.0,747.2 129.9,747.2 130.7,747.1 131.5,747.1 132.3,747.0 133.2,747.0 134.0,746.9 134.8,746.9 135.6,746.8 136.4,746.8 137.3,746.7 138.1,746.6 138.9,746.6 139.8,746.5 140.6,746.5 141.4,746.4 142.2,746.4 143.1,746.3 143.9,746.3 144.7,746.2 145.5,746.2 146.4,746.2 147.2,746.2 148.0,746.1 148.8,746.1 149.7,746.1 150.5,746.1 151.3,746.1 152.1,746.1 152.9,746.1 153.8,746.1 154.6,746.1 155.4,746.1 156.2,746.1 157.1,746.1 157.9,746.1 158.7,746.1 159.6,746.1 160.4,746.2 161.2,746.2 162.0,746.2 162.9,746.2 163.7,746.2 164.5,746.2 165.3,746.2 166.2,746.1 167.0,746.1 167.8,746.1 168.6,746.0 169.4,745.9 170.3,745.8 171.1,745.6 171.9,745.5 172.8,745.3 173.6,745.1 174.4,744.9 175.2,744.7 176.1,744.6 176.9,744.4 177.7,744.2 178.5,744.0 179.4,743.7 180.2,743.6 181.0,743.4 181.8,743.3 182.6,743.2 183.5,743.2 184.3,743.2 185.1,743.3 185.9,743.4 186.8,743.5 187.6,743.6 188.4,743.8 189.2,744.1 190.1,744.3 190.9,744.6 191.7,744.8 192.6,745.1 193.4,745.4 194.2,745.7 195.0,746.0 195.9,746.2 196.7,746.5 197.5,746.7 198.3,747.0 199.1,747.2 200.0,747.3 200.8,747.4 201.6,747.4 202.4,747.5 203.3,747.5 204.1,747.5 204.9,747.5 205.8,747.5 206.6,747.5 207.4,747.5 208.2,747.6 209.1,747.6 209.9,747.6 210.7,747.6 211.5,747.6 212.4,747.6 213.2,747.6 214.0,747.6 214.8,747.6 215.6,747.6 216.5,747.6 217.3,747.6 218.1,747.7 218.9,747.7 219.8,747.7 220.6,747.7 221.4,747.7 222.2,747.7 223.1,747.7 223.9,747.7 224.7,747.7 225.6,747.7 226.4,747.7 227.2,747.8 228.0,747.8 228.9,747.8 229.7,747.8 230.5,747.8 231.3,747.8 232.1,747.8 233.0,747.8 233.8,747.8 234.6,747.9 235.4,747.9 236.3,747.9 237.1,747.9 237.9,747.9 238.8,747.9 239.6,747.9 240.4,748.0 241.2,748.0 242.1,748.0 242.9,748.0 243.7,748.0 244.5,748.0 245.4,748.0 246.2,748.0 247.0,748.1 247.8,748.1 248.6,748.1 249.5,748.1 250.3,748.1 251.1,748.1 251.9,748.1 252.8,748.1 253.6,748.1 254.4,748.1 255.2,748.1 256.1,748.1 256.9,748.1 257.7,748.1 258.6,748.0 259.4,748.0 260.2,747.9 261.0,747.8 261.9,747.7 262.7,747.6 263.5,747.4 264.3,747.2 265.1,746.9 266.0,746.7 266.8,746.5 267.6,746.2 268.4,746.0 269.3,745.8 270.1,745.6 270.9,745.4 271.8,745.2 272.6,745.1 273.4,744.9 274.2,744.8 275.1,744.6 275.9,744.5 276.7,744.3 277.5,744.1 278.4,744.0 279.2,743.8 280.0,743.7 280.8,743.5 281.6,743.4 282.5,743.2 283.3,743.1 284.1,743.0 284.9,742.8 285.8,742.7 286.6,742.6 287.4,742.4 288.2,742.3 289.1,742.2 289.9,742.1 290.7,742.0 291.6,741.9 292.4,741.8 293.2,741.7 294.0,741.6 294.9,741.6 295.7,741.5 296.5,741.4 297.3,741.4 298.1,741.3 299.0,741.3 299.8,741.2 300.6,741.2 301.4,741.1 302.3,741.1 303.1,741.1 303.9,741.0 304.8,741.0 305.6,741.0 306.4,741.0 307.2,740.9 308.1,740.9 308.9,740.9 309.7,740.9 310.5,740.8 311.3,740.8 312.2,740.8 313.0,740.8 313.8,740.8 314.6,740.8 315.5,740.7 316.3,740.7 317.1,740.7 317.9,740.7 318.8,740.7 319.6,740.7 320.4,740.6 321.2,740.6 322.1,740.6 322.9,740.6 323.7,740.6 324.6,740.6 325.4,740.6 326.2,740.6 327.0,740.5 327.8,740.5 328.7,740.5 329.5,740.5 330.3,740.5 331.1,740.5 332.0,740.5 332.8,740.5 333.6,740.5 334.4,740.5 335.3,740.5 336.1,740.5 336.9,740.5 337.8,740.5 338.6,740.5 339.4,740.5 340.2,740.5 341.1,740.5 341.9,740.5 342.7,740.5" stroke="#30e030" stroke-width="2.1"/>
<mask id="hm5" maskUnits="userSpaceOnUse" x="0" y="0" width="350" height="865"><rect width="350" height="865" fill="#fff"/><path d="M45.7,745.7 46.5,745.7 47.4,745.7 48.2,745.7 49.0,745.7 49.8,745.7 50.7,745.7 51.5,745.7 52.3,745.7 53.1,745.7 54.0,745.7 54.8,745.7 55.6,745.7 56.4,745.7 57.2,745.7 58.1,745.7 58.9,745.7 59.7,745.7 60.6,745.7 61.4,745.7 62.2,745.7 63.0,745.7 63.9,745.7 64.7,745.7 65.5,745.7 66.3,745.7 67.2,745.7 68.0,745.7 68.8,745.7 69.6,745.7 70.5,745.7 71.3,745.7 72.1,745.7 72.9,745.7 73.8,745.7 74.6,745.7 75.4,745.7 76.2,745.7 77.1,745.7 77.9,745.7 78.7,745.7 79.5,745.7 80.3,745.7 81.2,745.7 82.0,745.7 82.8,745.7 83.7,745.7 84.5,745.8 85.3,745.8 86.1,745.8 87.0,745.8 87.8,745.8 88.6,745.8 89.4,745.8 90.2,745.8 91.1,745.8 91.9,745.8 92.7,745.8 93.6,745.9 94.4,745.9 95.2,745.9 96.0,745.9 96.8,746.0 97.7,746.0 98.5,746.0 99.3,746.1 100.2,746.1 101.0,746.2 101.8,746.2 102.6,746.3 103.5,746.3 104.3,746.4 105.1,746.4 105.9,746.5 106.8,746.6 107.6,746.6 108.4,746.7 109.2,746.7 110.0,746.8 110.9,746.9 111.7,746.9 112.5,747.0 113.4,747.0 114.2,747.1 115.0,747.2 115.8,747.2 116.7,747.3 117.5,747.4 118.3,747.5 119.1,747.5 120.0,747.6 120.8,747.7 121.6,747.8 122.4,747.8 123.2,747.9 124.1,748.0 124.9,748.0 125.7,748.1 126.5,748.2 127.4,748.2 128.2,748.3 129.0,748.3 129.9,748.3 130.7,748.4 131.5,748.4 132.3,748.4 133.2,748.4 134.0,748.5 134.8,748.5 135.6,748.5 136.4,748.5 137.3,748.5 138.1,748.5 138.9,748.5 139.8,748.5 140.6,748.5 141.4,748.6 142.2,748.6 143.1,748.6 143.9,748.6 144.7,748.6 145.5,748.6 146.4,748.6 147.2,748.6 148.0,748.6 148.8,748.7 149.7,748.7 150.5,748.7 151.3,748.7 152.1,748.7 152.9,748.7 153.8,748.7 154.6,748.8 155.4,748.8 156.2,748.8 157.1,748.8 157.9,748.8 158.7,748.8 159.6,748.8 160.4,748.8 161.2,748.8 162.0,748.8 162.9,748.7 163.7,748.7 164.5,748.7 165.3,748.7 166.2,748.7 167.0,748.6 167.8,748.6 168.6,748.5 169.4,748.5 170.3,748.4 171.1,748.2 171.9,748.1 172.8,747.9 173.6,747.8 174.4,747.6 175.2,747.4 176.1,747.2 176.9,747.0 177.7,746.8 178.5,746.7 179.4,746.5 180.2,746.4 181.0,746.2 181.8,746.1 182.6,746.0 183.5,745.9 184.3,745.8 185.1,745.7 185.9,745.6 186.8,745.5 187.6,745.4 188.4,745.3 189.2,745.2 190.1,745.1 190.9,745.1 191.7,745.0 192.6,744.9 193.4,744.9 194.2,744.9 195.0,744.8 195.9,744.8 196.7,744.8 197.5,744.8 198.3,744.8 199.1,744.8 200.0,744.9 200.8,744.9 201.6,744.9 202.4,745.0 203.3,745.1 204.1,745.1 204.9,745.2 205.8,745.2 206.6,745.3 207.4,745.3 208.2,745.4 209.1,745.4 209.9,745.5 210.7,745.5 211.5,745.6 212.4,745.7 213.2,745.7 214.0,745.8 214.8,745.8 215.6,745.9 216.5,745.9 217.3,746.0 218.1,746.0 218.9,746.1 219.8,746.1 220.6,746.2 221.4,746.2 222.2,746.3 223.1,746.3 223.9,746.4 224.7,746.4 225.6,746.5 226.4,746.5 227.2,746.6 228.0,746.6 228.9,746.6 229.7,746.7 230.5,746.7 231.3,746.7 232.1,746.7 233.0,746.7 233.8,746.7 234.6,746.7 235.4,746.7 236.3,746.7 237.1,746.7 237.9,746.7 238.8,746.7 239.6,746.7 240.4,746.6 241.2,746.6 242.1,746.6 242.9,746.6 243.7,746.6 244.5,746.6 245.4,746.5 246.2,746.5 247.0,746.5 247.8,746.5 248.6,746.5 249.5,746.5 250.3,746.4 251.1,746.4 251.9,746.4 252.8,746.4 253.6,746.4 254.4,746.3 255.2,746.3 256.1,746.3 256.9,746.3 257.7,746.3 258.6,746.3 259.4,746.2 260.2,746.2 261.0,746.2 261.9,746.2 262.7,746.2 263.5,746.2 264.3,746.2 265.1,746.2 266.0,746.2 266.8,746.2 267.6,746.2 268.4,746.2 269.3,746.2 270.1,746.2 270.9,746.2 271.8,746.2 272.6,746.2 273.4,746.2 274.2,746.2 275.1,746.2 275.9,746.2 276.7,746.2 277.5,746.2 278.4,746.3 279.2,746.3 280.0,746.3 280.8,746.3 281.6,746.3 282.5,746.4 283.3,746.4 284.1,746.4 284.9,746.4 285.8,746.4 286.6,746.5 287.4,746.5 288.2,746.5 289.1,746.5 289.9,746.5 290.7,746.6 291.6,746.6 292.4,746.6 293.2,746.6 294.0,746.6 294.9,746.6 295.7,746.6 296.5,746.6 297.3,746.6 298.1,746.5 299.0,746.5 299.8,746.5 300.6,746.5 301.4,746.5 302.3,746.5 303.1,746.5 303.9,746.5 304.8,746.4 305.6,746.4 306.4,746.4 307.2,746.4 308.1,746.4 308.9,746.4 309.7,746.3 310.5,746.3 311.3,746.3 312.2,746.3 313.0,746.3 313.8,746.3 314.6,746.3 315.5,746.3 316.3,746.2 317.1,746.2 317.9,746.2 318.8,746.2 319.6,746.2 320.4,746.2 321.2,746.2 322.1,746.2 322.9,746.2 323.7,746.2 324.6,746.2 325.4,746.2 326.2,746.2 327.0,746.2 327.8,746.2 328.7,746.2 329.5,746.2 330.3,746.2 331.1,746.2 332.0,746.2 332.8,746.2 333.6,746.2 334.4,746.2 335.3,746.2 336.1,746.2 336.9,746.2 337.8,746.2 338.6,746.2 339.4,746.2 340.2,746.2 341.1,746.2 341.9,746.2 342.7,746.2" fill="none" stroke="#000" stroke-width="0.80" stroke-dasharray="3.90 7.10" stroke-dashoffset="-1.20"/></mask><path d="M45.7,745.7 46.5,745.7 47.4,745.7 48.2,745.7 49.0,745.7 49.8,745.7 50.7,745.7 51.5,745.7 52.3,745.7 53.1,745.7 54.0,745.7 54.8,745.7 55.6,745.7 56.4,745.7 57.2,745.7 58.1,745.7 58.9,745.7 59.7,745.7 60.6,745.7 61.4,745.7 62.2,745.7 63.0,745.7 63.9,745.7 64.7,745.7 65.5,745.7 66.3,745.7 67.2,745.7 68.0,745.7 68.8,745.7 69.6,745.7 70.5,745.7 71.3,745.7 72.1,745.7 72.9,745.7 73.8,745.7 74.6,745.7 75.4,745.7 76.2,745.7 77.1,745.7 77.9,745.7 78.7,745.7 79.5,745.7 80.3,745.7 81.2,745.7 82.0,745.7 82.8,745.7 83.7,745.7 84.5,745.8 85.3,745.8 86.1,745.8 87.0,745.8 87.8,745.8 88.6,745.8 89.4,745.8 90.2,745.8 91.1,745.8 91.9,745.8 92.7,745.8 93.6,745.9 94.4,745.9 95.2,745.9 96.0,745.9 96.8,746.0 97.7,746.0 98.5,746.0 99.3,746.1 100.2,746.1 101.0,746.2 101.8,746.2 102.6,746.3 103.5,746.3 104.3,746.4 105.1,746.4 105.9,746.5 106.8,746.6 107.6,746.6 108.4,746.7 109.2,746.7 110.0,746.8 110.9,746.9 111.7,746.9 112.5,747.0 113.4,747.0 114.2,747.1 115.0,747.2 115.8,747.2 116.7,747.3 117.5,747.4 118.3,747.5 119.1,747.5 120.0,747.6 120.8,747.7 121.6,747.8 122.4,747.8 123.2,747.9 124.1,748.0 124.9,748.0 125.7,748.1 126.5,748.2 127.4,748.2 128.2,748.3 129.0,748.3 129.9,748.3 130.7,748.4 131.5,748.4 132.3,748.4 133.2,748.4 134.0,748.5 134.8,748.5 135.6,748.5 136.4,748.5 137.3,748.5 138.1,748.5 138.9,748.5 139.8,748.5 140.6,748.5 141.4,748.6 142.2,748.6 143.1,748.6 143.9,748.6 144.7,748.6 145.5,748.6 146.4,748.6 147.2,748.6 148.0,748.6 148.8,748.7 149.7,748.7 150.5,748.7 151.3,748.7 152.1,748.7 152.9,748.7 153.8,748.7 154.6,748.8 155.4,748.8 156.2,748.8 157.1,748.8 157.9,748.8 158.7,748.8 159.6,748.8 160.4,748.8 161.2,748.8 162.0,748.8 162.9,748.7 163.7,748.7 164.5,748.7 165.3,748.7 166.2,748.7 167.0,748.6 167.8,748.6 168.6,748.5 169.4,748.5 170.3,748.4 171.1,748.2 171.9,748.1 172.8,747.9 173.6,747.8 174.4,747.6 175.2,747.4 176.1,747.2 176.9,747.0 177.7,746.8 178.5,746.7 179.4,746.5 180.2,746.4 181.0,746.2 181.8,746.1 182.6,746.0 183.5,745.9 184.3,745.8 185.1,745.7 185.9,745.6 186.8,745.5 187.6,745.4 188.4,745.3 189.2,745.2 190.1,745.1 190.9,745.1 191.7,745.0 192.6,744.9 193.4,744.9 194.2,744.9 195.0,744.8 195.9,744.8 196.7,744.8 197.5,744.8 198.3,744.8 199.1,744.8 200.0,744.9 200.8,744.9 201.6,744.9 202.4,745.0 203.3,745.1 204.1,745.1 204.9,745.2 205.8,745.2 206.6,745.3 207.4,745.3 208.2,745.4 209.1,745.4 209.9,745.5 210.7,745.5 211.5,745.6 212.4,745.7 213.2,745.7 214.0,745.8 214.8,745.8 215.6,745.9 216.5,745.9 217.3,746.0 218.1,746.0 218.9,746.1 219.8,746.1 220.6,746.2 221.4,746.2 222.2,746.3 223.1,746.3 223.9,746.4 224.7,746.4 225.6,746.5 226.4,746.5 227.2,746.6 228.0,746.6 228.9,746.6 229.7,746.7 230.5,746.7 231.3,746.7 232.1,746.7 233.0,746.7 233.8,746.7 234.6,746.7 235.4,746.7 236.3,746.7 237.1,746.7 237.9,746.7 238.8,746.7 239.6,746.7 240.4,746.6 241.2,746.6 242.1,746.6 242.9,746.6 243.7,746.6 244.5,746.6 245.4,746.5 246.2,746.5 247.0,746.5 247.8,746.5 248.6,746.5 249.5,746.5 250.3,746.4 251.1,746.4 251.9,746.4 252.8,746.4 253.6,746.4 254.4,746.3 255.2,746.3 256.1,746.3 256.9,746.3 257.7,746.3 258.6,746.3 259.4,746.2 260.2,746.2 261.0,746.2 261.9,746.2 262.7,746.2 263.5,746.2 264.3,746.2 265.1,746.2 266.0,746.2 266.8,746.2 267.6,746.2 268.4,746.2 269.3,746.2 270.1,746.2 270.9,746.2 271.8,746.2 272.6,746.2 273.4,746.2 274.2,746.2 275.1,746.2 275.9,746.2 276.7,746.2 277.5,746.2 278.4,746.3 279.2,746.3 280.0,746.3 280.8,746.3 281.6,746.3 282.5,746.4 283.3,746.4 284.1,746.4 284.9,746.4 285.8,746.4 286.6,746.5 287.4,746.5 288.2,746.5 289.1,746.5 289.9,746.5 290.7,746.6 291.6,746.6 292.4,746.6 293.2,746.6 294.0,746.6 294.9,746.6 295.7,746.6 296.5,746.6 297.3,746.6 298.1,746.5 299.0,746.5 299.8,746.5 300.6,746.5 301.4,746.5 302.3,746.5 303.1,746.5 303.9,746.5 304.8,746.4 305.6,746.4 306.4,746.4 307.2,746.4 308.1,746.4 308.9,746.4 309.7,746.3 310.5,746.3 311.3,746.3 312.2,746.3 313.0,746.3 313.8,746.3 314.6,746.3 315.5,746.3 316.3,746.2 317.1,746.2 317.9,746.2 318.8,746.2 319.6,746.2 320.4,746.2 321.2,746.2 322.1,746.2 322.9,746.2 323.7,746.2 324.6,746.2 325.4,746.2 326.2,746.2 327.0,746.2 327.8,746.2 328.7,746.2 329.5,746.2 330.3,746.2 331.1,746.2 332.0,746.2 332.8,746.2 333.6,746.2 334.4,746.2 335.3,746.2 336.1,746.2 336.9,746.2 337.8,746.2 338.6,746.2 339.4,746.2 340.2,746.2 341.1,746.2 341.9,746.2 342.7,746.2" fill="none" stroke="#e437e4" stroke-width="2.8" stroke-dasharray="6.3 4.7" stroke-dashoffset="0" mask="url(#hm5)"/>
<path d="M45.7,752.1 46.5,752.1 47.4,752.0 48.2,752.0 49.0,751.9 49.8,751.9 50.7,751.9 51.5,751.8 52.3,751.8 53.1,751.7 54.0,751.7 54.8,751.7 55.6,751.6 56.4,751.6 57.2,751.5 58.1,751.5 58.9,751.4 59.7,751.4 60.6,751.4 61.4,751.3 62.2,751.3 63.0,751.3 63.9,751.2 64.7,751.2 65.5,751.1 66.3,751.1 67.2,751.1 68.0,751.0 68.8,751.0 69.6,751.0 70.5,750.9 71.3,750.9 72.1,750.9 72.9,750.9 73.8,750.9 74.6,750.9 75.4,750.9 76.2,751.0 77.1,751.0 77.9,751.0 78.7,751.1 79.5,751.1 80.3,751.2 81.2,751.2 82.0,751.3 82.8,751.3 83.7,751.4 84.5,751.5 85.3,751.6 86.1,751.7 87.0,751.8 87.8,751.9 88.6,752.1 89.4,752.2 90.2,752.3 91.1,752.5 91.9,752.6 92.7,752.8 93.6,753.1 94.4,753.4 95.2,753.7 96.0,754.0 96.8,754.2 97.7,754.4 98.5,754.4 99.3,754.2 100.2,754.0 101.0,753.6 101.8,753.1 102.6,752.5 103.5,751.7 104.3,750.7 105.1,749.6 105.9,748.4 106.8,747.0 107.6,745.7 108.4,744.2 109.2,742.7 110.0,741.1 110.9,739.5 111.7,737.8 112.5,736.0 113.4,734.1 114.2,732.2 115.0,730.3 115.8,728.4 116.7,726.4 117.5,724.5 118.3,722.7 119.1,720.9 120.0,719.1 120.8,717.4 121.6,715.7 122.4,714.0 123.2,712.3 124.1,710.7 124.9,709.2 125.7,707.7 126.5,706.2 127.4,704.9 128.2,703.7 129.0,702.6 129.9,701.6 130.7,700.7 131.5,699.8 132.3,699.0 133.2,698.2 134.0,697.5 134.8,696.8 135.6,696.1 136.4,695.5 137.3,694.9 138.1,694.4 138.9,693.9 139.8,693.5 140.6,693.1 141.4,692.8 142.2,692.4 143.1,692.1 143.9,691.9 144.7,691.6 145.5,691.4 146.4,691.3 147.2,691.2 148.0,691.2 148.8,691.1 149.7,691.2 150.5,691.4 151.3,691.7 152.1,692.2 152.9,692.7 153.8,693.4 154.6,694.2 155.4,695.1 156.2,696.1 157.1,697.3 157.9,698.6 158.7,700.0 159.6,701.6 160.4,703.3 161.2,705.1 162.0,707.1 162.9,709.2 163.7,711.5 164.5,713.6 165.3,715.6 166.2,717.5 167.0,719.3 167.8,721.1 168.6,722.8 169.4,724.5 170.3,726.2 171.1,727.8 171.9,729.3 172.8,730.9 173.6,732.4 174.4,733.8 175.2,735.2 176.1,736.5 176.9,737.7 177.7,738.9 178.5,740.1 179.4,741.3 180.2,742.5 181.0,743.7 181.8,744.9 182.6,746.1 183.5,747.3 184.3,748.4 185.1,749.6 185.9,750.7 186.8,751.8 187.6,752.8 188.4,753.8 189.2,754.6 190.1,755.1 190.9,755.4 191.7,755.5 192.6,755.3 193.4,755.1 194.2,754.9 195.0,755.0 195.9,755.3 196.7,755.6 197.5,756.0 198.3,756.3 199.1,756.7 200.0,756.9 200.8,757.2 201.6,757.5 202.4,757.7 203.3,757.8 204.1,757.8 204.9,757.7 205.8,757.5 206.6,757.2 207.4,756.8 208.2,756.3 209.1,755.8 209.9,755.3 210.7,754.8 211.5,754.3 212.4,753.8 213.2,753.3 214.0,752.7 214.8,752.2 215.6,751.7 216.5,751.2 217.3,750.7 218.1,750.1 218.9,749.6 219.8,748.9 220.6,747.8 221.4,746.6 222.2,745.3 223.1,744.0 223.9,742.9 224.7,741.9 225.6,740.9 226.4,739.9 227.2,738.9 228.0,738.1 228.9,737.3 229.7,736.6 230.5,736.0 231.3,735.4 232.1,735.0 233.0,734.5 233.8,734.2 234.6,733.8 235.4,733.5 236.3,733.1 237.1,732.8 237.9,732.5 238.8,732.3 239.6,732.0 240.4,731.8 241.2,731.6 242.1,731.4 242.9,731.3 243.7,731.2 244.5,731.1 245.4,731.0 246.2,731.0 247.0,731.0 247.8,731.0 248.6,731.0 249.5,731.0 250.3,731.1 251.1,731.3 251.9,731.4 252.8,731.7 253.6,732.0 254.4,732.3 255.2,732.6 256.1,733.0 256.9,733.3 257.7,733.7 258.6,734.0 259.4,734.4 260.2,734.8 261.0,735.2 261.9,735.6 262.7,736.0 263.5,736.4 264.3,736.8 265.1,737.2 266.0,737.6 266.8,738.0 267.6,738.4 268.4,738.8 269.3,739.2 270.1,739.6 270.9,740.0 271.8,740.4 272.6,740.8 273.4,741.1 274.2,741.5 275.1,741.9 275.9,742.3 276.7,742.8 277.5,743.2 278.4,743.6 279.2,744.1 280.0,744.5 280.8,744.9 281.6,745.4 282.5,745.9 283.3,746.4 284.1,746.9 284.9,747.5 285.8,748.0 286.6,748.6 287.4,749.1 288.2,749.6 289.1,750.1 289.9,750.5 290.7,751.0 291.6,751.4 292.4,751.7 293.2,752.1 294.0,752.5 294.9,752.8 295.7,753.1 296.5,753.4 297.3,753.6 298.1,753.8 299.0,754.0 299.8,754.1 300.6,754.2 301.4,754.3 302.3,754.4 303.1,754.5 303.9,754.6 304.8,754.7 305.6,754.7 306.4,754.8 307.2,754.8 308.1,754.8 308.9,754.9 309.7,754.9 310.5,754.9 311.3,754.9 312.2,754.8 313.0,754.8 313.8,754.8 314.6,754.7 315.5,754.7 316.3,754.6 317.1,754.6 317.9,754.5 318.8,754.5 319.6,754.4 320.4,754.4 321.2,754.3 322.1,754.3 322.9,754.2 323.7,754.2 324.6,754.1 325.4,754.1 326.2,754.0 327.0,754.0 327.8,753.9 328.7,753.9 329.5,753.9 330.3,753.8 331.1,753.8 332.0,753.8 332.8,753.7 333.6,753.7 334.4,753.7 335.3,753.7 336.1,753.6 336.9,753.6 337.8,753.6 338.6,753.6 339.4,753.5 340.2,753.5 341.1,753.5 341.9,753.5 342.7,753.5" stroke="#000" stroke-width="2.1"/>
<path d="M45.7,716.5 46.5,716.5 47.4,716.4 48.2,716.4 49.0,716.4 49.8,716.4 50.7,716.4 51.5,716.4 52.3,716.4 53.1,716.4 54.0,716.4 54.8,716.4 55.6,716.5 56.4,716.5 57.2,716.5 58.1,716.5 58.9,716.6 59.7,716.6 60.6,716.6 61.4,716.6 62.2,716.7 63.0,716.7 63.9,716.7 64.7,716.7 65.5,716.7 66.3,716.8 67.2,716.8 68.0,716.9 68.8,717.1 69.6,717.4 70.5,717.7 71.3,718.1 72.1,718.4 72.9,718.8 73.8,719.2 74.6,719.6 75.4,720.0 76.2,720.4 77.1,720.8 77.9,721.1 78.7,721.5 79.5,721.9 80.3,722.3 81.2,722.7 82.0,723.1 82.8,723.4 83.7,723.8 84.5,724.2 85.3,724.6 86.1,724.9 87.0,725.3 87.8,725.7 88.6,726.1 89.4,726.4 90.2,726.8 91.1,727.1 91.9,727.5 92.7,727.8 93.6,728.1 94.4,728.4 95.2,728.8 96.0,729.1 96.8,729.4 97.7,729.7 98.5,729.9 99.3,730.2 100.2,730.4 101.0,730.4 101.8,730.3 102.6,730.1 103.5,729.8 104.3,729.5 105.1,729.1 105.9,728.7 106.8,728.1 107.6,727.4 108.4,726.6 109.2,725.7 110.0,724.6 110.9,723.5 111.7,722.4 112.5,721.2 113.4,719.9 114.2,718.5 115.0,717.1 115.8,715.7 116.7,714.2 117.5,712.7 118.3,711.2 119.1,709.6 120.0,708.0 120.8,706.3 121.6,704.6 122.4,702.9 123.2,701.2 124.1,699.4 124.9,697.6 125.7,695.6 126.5,693.6 127.4,691.4 128.2,689.1 129.0,686.6 129.9,683.8 130.7,681.2 131.5,678.8 132.3,676.3 133.2,673.9 134.0,671.4 134.8,669.0 135.6,666.6 136.4,664.2 137.3,661.8 138.1,659.4 138.9,657.0 139.8,654.6 140.6,652.4 141.4,650.3 142.2,648.4 143.1,646.6 143.9,644.8 144.7,643.0 145.5,641.3 146.4,639.6 147.2,638.1 148.0,636.7 148.8,635.4 149.7,634.3 150.5,633.5 151.3,632.9 152.1,632.5 152.9,632.2 153.8,632.0 154.6,632.0 155.4,632.0 156.2,632.3 157.1,632.9 157.9,633.7 158.7,634.7 159.6,636.0 160.4,637.5 161.2,639.2 162.0,641.2 162.9,643.1 163.7,645.1 164.5,647.2 165.3,649.2 166.2,651.3 167.0,653.4 167.8,655.5 168.6,657.8 169.4,660.1 170.3,662.6 171.1,665.2 171.9,667.9 172.8,670.7 173.6,673.4 174.4,676.4 175.2,679.6 176.1,682.9 176.9,686.2 177.7,689.5 178.5,692.7 179.4,695.7 180.2,698.5 181.0,701.0 181.8,703.3 182.6,705.6 183.5,707.8 184.3,710.1 185.1,712.5 185.9,714.8 186.8,717.2 187.6,719.6 188.4,722.0 189.2,724.4 190.1,726.6 190.9,728.1 191.7,728.9 192.6,728.9 193.4,728.1 194.2,726.6 195.0,724.7 195.9,722.7 196.7,720.6 197.5,718.4 198.3,716.0 199.1,713.5 200.0,711.0 200.8,708.5 201.6,705.9 202.4,703.3 203.3,700.7 204.1,697.9 204.9,695.0 205.8,691.8 206.6,688.3 207.4,684.6 208.2,680.7 209.1,676.9 209.9,673.0 210.7,669.0 211.5,664.8 212.4,660.4 213.2,655.9 214.0,651.5 214.8,647.1 215.6,642.7 216.5,638.3 217.3,633.9 218.1,629.5 218.9,625.2 219.8,621.2 220.6,617.3 221.4,613.5 222.2,609.9 223.1,606.4 223.9,603.2 224.7,600.1 225.6,597.1 226.4,594.5 227.2,592.1 228.0,590.0 228.9,588.2 229.7,586.7 230.5,585.4 231.3,584.5 232.1,583.7 233.0,583.1 233.8,582.5 234.6,582.1 235.4,581.8 236.3,581.6 237.1,581.6 237.9,581.7 238.8,582.0 239.6,582.5 240.4,583.1 241.2,583.8 242.1,584.8 242.9,586.0 243.7,587.4 244.5,589.0 245.4,590.8 246.2,592.9 247.0,595.2 247.8,597.7 248.6,600.3 249.5,603.1 250.3,606.1 251.1,609.1 251.9,612.3 252.8,615.4 253.6,618.7 254.4,622.0 255.2,625.4 256.1,628.7 256.9,632.2 257.7,635.7 258.6,639.1 259.4,642.6 260.2,646.1 261.0,649.7 261.9,653.2 262.7,656.7 263.5,660.3 264.3,663.8 265.1,667.3 266.0,670.8 266.8,674.4 267.6,677.8 268.4,681.0 269.3,684.1 270.1,687.2 270.9,690.2 271.8,692.9 272.6,695.5 273.4,698.0 274.2,700.3 275.1,702.4 275.9,704.2 276.7,705.9 277.5,707.4 278.4,708.8 279.2,710.0 280.0,711.2 280.8,712.2 281.6,713.2 282.5,714.2 283.3,715.0 284.1,715.7 284.9,716.4 285.8,717.1 286.6,717.6 287.4,718.1 288.2,718.6 289.1,718.9 289.9,719.3 290.7,719.5 291.6,719.7 292.4,719.9 293.2,720.0 294.0,720.1 294.9,720.0 295.7,719.9 296.5,719.7 297.3,719.5 298.1,719.4 299.0,719.2 299.8,719.0 300.6,718.9 301.4,718.7 302.3,718.5 303.1,718.3 303.9,718.2 304.8,718.0 305.6,717.8 306.4,717.6 307.2,717.4 308.1,717.3 308.9,717.1 309.7,717.0 310.5,716.8 311.3,716.7 312.2,716.6 313.0,716.5 313.8,716.5 314.6,716.4 315.5,716.4 316.3,716.3 317.1,716.3 317.9,716.2 318.8,716.2 319.6,716.2 320.4,716.1 321.2,716.1 322.1,716.1 322.9,716.1 323.7,716.0 324.6,716.0 325.4,716.0 326.2,716.0 327.0,716.0 327.8,715.9 328.7,715.9 329.5,715.9 330.3,715.9 331.1,715.9 332.0,715.9 332.8,715.9 333.6,715.9 334.4,715.9 335.3,715.9 336.1,716.0 336.9,716.0 337.8,716.0 338.6,716.0 339.4,716.0 340.2,716.1 341.1,716.1 341.9,716.1 342.7,716.2" stroke="#1ce4ea" stroke-width="2.1"/>
</g>
<rect x="45.7" y="581.6" width="297.0" height="235.2" fill="none" stroke="#555" stroke-width="1.3"/>
<path d="M95.2,816.8v-3.5M95.2,581.6v3.5M128.2,816.8v-3.5M128.2,581.6v3.5M161.2,816.8v-3.5M161.2,581.6v3.5M194.2,816.8v-3.5M194.2,581.6v3.5M227.2,816.8v-3.5M227.2,581.6v3.5M260.2,816.8v-3.5M260.2,581.6v3.5M293.2,816.8v-3.5M293.2,581.6v3.5M45.7,816.8h3.5M342.7,816.8h-3.5M45.7,783.2h3.5M342.7,783.2h-3.5M45.7,749.6h3.5M342.7,749.6h-3.5M45.7,716.0h3.5M342.7,716.0h-3.5M45.7,682.4h3.5M342.7,682.4h-3.5M45.7,648.8h3.5M342.7,648.8h-3.5M45.7,615.2h3.5M342.7,615.2h-3.5M45.7,581.6h3.5M342.7,581.6h-3.5" stroke="#555" stroke-width="1" fill="none"/>
<text x="45.7" y="829.5" text-anchor="middle" class="tk">-90</text>
<text x="95.2" y="829.5" text-anchor="middle" class="tk">-60</text>
<text x="128.2" y="829.5" text-anchor="middle" class="tk">-40</text>
<text x="161.2" y="829.5" text-anchor="middle" class="tk">-20</text>
<text x="194.2" y="829.5" text-anchor="middle" class="tk">0</text>
<text x="227.2" y="829.5" text-anchor="middle" class="tk">20</text>
<text x="260.2" y="829.5" text-anchor="middle" class="tk">40</text>
<text x="293.2" y="829.5" text-anchor="middle" class="tk">60</text>
<text x="342.7" y="829.5" text-anchor="middle" class="tk">90</text>
<text x="40.1" y="820.0" text-anchor="end" class="tk">-0.4</text>
<text x="40.1" y="786.4" text-anchor="end" class="tk">-0.2</text>
<text x="40.1" y="752.8" text-anchor="end" class="tk">0</text>
<text x="40.1" y="719.2" text-anchor="end" class="tk">0.2</text>
<text x="40.1" y="685.6" text-anchor="end" class="tk">0.4</text>
<text x="40.1" y="652.0" text-anchor="end" class="tk">0.6</text>
<text x="40.1" y="618.4" text-anchor="end" class="tk">0.8</text>
<text x="40.1" y="584.8" text-anchor="end" class="tk">1</text>
<text x="127.1" y="846.1" class="lb" textLength="137.6" lengthAdjust="spacing">Azimuth angle <tspan font-style="italic">φ</tspan> in deg</text>
<text transform="translate(10.5,699.2) rotate(-90)" text-anchor="middle" class="lb" textLength="199.6" lengthAdjust="spacing">Normalized magnitude (arb. units)</text>
<text x="175.4" y="861.4" text-anchor="middle" class="cap">(c)</text>
<rect x="50.4" y="587.4" width="73.5" height="109.1" fill="#fff" stroke="#222" stroke-width="1"/>
<line x1="56.4" y1="595.3" x2="77.4" y2="595.3" stroke="#cc1830" stroke-width="2.3000000000000003" stroke-dasharray="5.4 1.5 1.3 1.5"/>
<line x1="56.4" y1="610.6" x2="77.4" y2="610.6" stroke="#1a30cc" stroke-width="2.1" stroke-dasharray="5.5 5"/>
<line x1="56.4" y1="626.6" x2="77.4" y2="626.6" stroke="#30e030" stroke-width="2.1"/>
<mask id="hm6" maskUnits="userSpaceOnUse" x="0" y="0" width="350" height="865"><rect width="350" height="865" fill="#fff"/><path d="M56.4,643.6 H74.4" fill="none" stroke="#000" stroke-width="0.80" stroke-dasharray="3.90 7.10" stroke-dashoffset="-1.20"/></mask><path d="M56.4,643.6 H74.4" fill="none" stroke="#e437e4" stroke-width="2.8" stroke-dasharray="6.3 4.7" stroke-dashoffset="0" mask="url(#hm6)"/>
<line x1="56.4" y1="659.7" x2="77.4" y2="659.7" stroke="#000" stroke-width="2.1"/>
<line x1="56.4" y1="682.6" x2="77.4" y2="682.6" stroke="#1ce4ea" stroke-width="2.1"/>
<text y="598.0" class="mt"><tspan x="83.4">a</tspan></text><text x="86.3" y="593.2" text-anchor="middle" class="tl">~</text>
<text y="613.8" class="mt"><tspan x="83.4">b</tspan></text><text x="87.0" y="606.6" text-anchor="middle" class="tl">~</text>
<text y="628.8" class="mt"><tspan x="83.4">c</tspan></text><text x="86.3" y="624.0" text-anchor="middle" class="tl">~</text>
<text y="646.0" class="mt"><tspan x="83.4">d</tspan></text><text x="88.0" y="638.8" text-anchor="middle" class="tl">~</text>
<text y="662.5" class="mt"><tspan x="83.4">a</tspan><tspan x="93.0" class="op">−</tspan><tspan x="103.4">b</tspan></text><text x="86.3" y="657.7" text-anchor="middle" class="tl">~</text><text x="107.0" y="655.3" text-anchor="middle" class="tl">~</text>
<text y="679.0" class="mt"><tspan x="83.4">a</tspan><tspan x="93.0" class="op">+</tspan><tspan x="103.4">b</tspan><tspan x="113.2" class="op">+</tspan></text><text x="86.3" y="674.2" text-anchor="middle" class="tl">~</text><text x="107.0" y="671.8" text-anchor="middle" class="tl">~</text>
<text y="692.0" class="mt"><tspan x="83.4">c</tspan><tspan x="93.0" class="op">+</tspan><tspan x="103.4">d</tspan></text><text x="86.3" y="687.2" text-anchor="middle" class="tl">~</text><text x="108.0" y="684.8" text-anchor="middle" class="tl">~</text>
</svg></body></html>
